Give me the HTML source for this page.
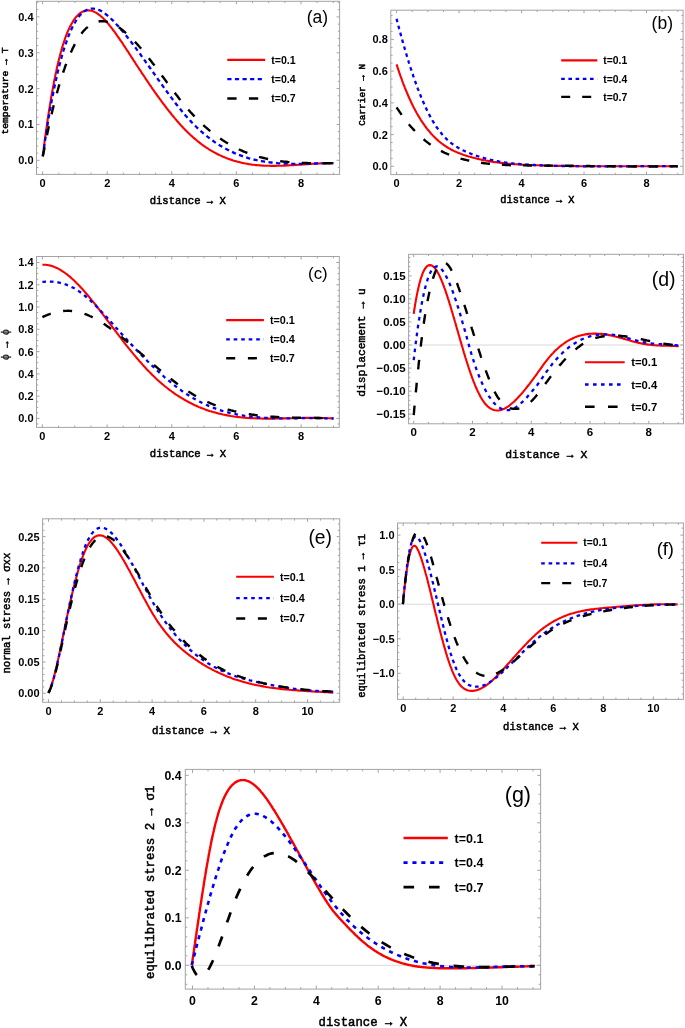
<!DOCTYPE html>
<html><head><meta charset="utf-8"><style>
html,body{margin:0;padding:0;background:#fff;}
body{width:685px;height:1028px;overflow:hidden;}
svg{display:block;will-change:transform;}
.tl{font-family:"Liberation Sans",sans-serif;font-weight:bold;fill:#000;}
.pl{font-family:"Liberation Sans",sans-serif;fill:#000;}
.ar{stroke:#000;stroke-width:0.45px;}
.at{font-family:"Liberation Mono",monospace;font-weight:normal;fill:#000;stroke:#000;stroke-width:0.5px;}
</style></head><body>
<svg width="685" height="1028" viewBox="0 0 685 1028">
<rect width="685" height="1028" fill="#fff"/>

<path d="M42.8 156.0L43.1 153.6L43.4 151.3L43.7 149.0L44.0 146.7L44.3 144.4L44.5 142.2L44.8 140.0L45.1 137.8L45.4 135.7L45.7 133.5L46.0 131.4L46.3 129.3L46.6 127.2L46.9 125.2L47.2 123.2L47.5 121.2L47.7 119.2L48.0 117.3L48.3 115.3L48.6 113.4L48.9 111.5L49.2 109.7L49.5 107.9L49.8 106.0L50.1 104.2L50.4 102.5L50.7 100.7L50.9 99.0L51.2 97.3L51.5 95.6L51.8 93.9L52.1 92.3L52.4 90.7L52.7 89.1L53.0 87.5L53.3 86.0L53.6 84.4L53.8 82.9L54.1 81.4L54.4 79.9L54.9 77.7L55.3 75.6L55.7 73.5L56.2 71.5L56.6 69.5L57.0 67.5L57.5 65.6L57.9 63.7L58.4 61.9L58.8 60.1L59.2 58.4L59.7 56.6L60.1 55.0L60.5 53.3L61.0 51.7L61.4 50.2L61.8 48.7L62.3 47.2L62.7 45.7L63.3 43.9L63.9 42.1L64.5 40.3L65.0 38.7L65.6 37.0L66.2 35.5L66.8 34.0L67.4 32.5L67.9 31.1L68.7 29.5L69.4 27.9L70.1 26.4L70.9 25.0L71.6 23.7L72.5 22.2L73.3 20.8L74.2 19.5L75.2 18.2L76.2 16.9L77.3 15.8L78.4 14.6L79.6 13.7L80.9 12.7L82.2 11.9L83.6 11.2L85.1 10.8L86.7 10.5L88.3 10.4L89.9 10.5L91.5 10.8L93.0 11.3L94.4 11.9L95.9 12.6L97.2 13.4L98.5 14.3L99.8 15.3L100.9 16.3L102.1 17.3L103.3 18.4L104.4 19.6L105.6 20.8L106.6 22.0L107.6 23.1L108.7 24.3L109.7 25.6L110.7 26.8L111.7 28.1L112.7 29.5L113.7 30.8L114.8 32.2L115.8 33.6L116.6 34.9L117.5 36.1L118.4 37.3L119.3 38.6L120.1 39.9L121.0 41.2L121.9 42.4L122.8 43.7L123.6 45.1L124.5 46.4L125.4 47.7L126.2 49.0L127.1 50.4L128.0 51.7L128.9 53.0L129.7 54.4L130.6 55.7L131.5 57.1L132.3 58.4L133.2 59.8L134.1 61.1L135.0 62.4L135.8 63.8L136.7 65.1L137.6 66.5L138.5 67.8L139.3 69.1L140.2 70.4L141.1 71.8L141.9 73.1L142.8 74.4L143.7 75.7L144.6 77.0L145.4 78.3L146.3 79.6L147.2 80.9L148.0 82.2L148.9 83.5L149.8 84.8L150.7 86.0L151.5 87.3L152.4 88.6L153.3 89.8L154.2 91.1L155.0 92.3L155.9 93.5L156.8 94.8L157.6 96.0L158.7 97.4L159.7 98.8L160.7 100.2L161.7 101.6L162.7 103.0L163.8 104.3L164.8 105.7L165.8 107.0L166.8 108.3L167.8 109.6L168.8 110.9L169.9 112.2L170.9 113.5L171.9 114.8L172.9 116.0L173.9 117.2L174.9 118.4L176.0 119.6L177.0 120.8L178.0 122.0L179.0 123.2L180.0 124.3L181.0 125.4L182.1 126.5L183.2 127.8L184.4 129.0L185.6 130.2L186.7 131.3L187.9 132.5L189.0 133.6L190.2 134.7L191.4 135.8L192.5 136.8L193.7 137.9L194.9 138.9L196.0 139.8L197.2 140.8L198.5 141.8L199.8 142.9L201.1 143.9L202.4 144.8L203.7 145.8L205.0 146.7L206.3 147.6L207.7 148.4L209.0 149.3L210.3 150.1L211.6 150.8L212.9 151.6L214.3 152.4L215.8 153.2L217.2 154.0L218.7 154.7L220.2 155.4L221.6 156.0L223.1 156.7L224.5 157.3L226.0 157.9L227.4 158.5L228.9 159.0L230.3 159.5L231.8 160.0L233.2 160.5L234.7 160.9L236.1 161.3L237.6 161.7L239.1 162.1L240.7 162.5L242.3 162.9L243.9 163.2L245.4 163.5L247.0 163.8L248.6 164.1L250.2 164.3L251.8 164.6L253.4 164.8L255.0 165.0L256.6 165.1L258.2 165.3L259.8 165.4L261.4 165.5L263.0 165.6L264.6 165.7L266.2 165.8L267.8 165.8L269.4 165.8L271.0 165.9L272.6 165.9L274.2 165.9L275.8 165.9L277.4 165.8L279.0 165.8L280.6 165.7L282.2 165.7L283.8 165.6L285.4 165.6L287.0 165.5L288.6 165.4L290.2 165.3L291.8 165.2L293.4 165.1L295.0 165.0L296.6 164.9L298.2 164.8L299.8 164.7L301.4 164.6L303.0 164.5L304.6 164.4L306.2 164.2L307.8 164.1L309.4 164.0L311.0 163.9L312.6 163.8L314.2 163.7L315.8 163.6L317.4 163.5L319.0 163.5L320.6 163.4L322.2 163.3L323.8 163.3L325.4 163.2L327.0 163.2L328.6 163.1L330.2 163.1L331.8 163.1L333.4 163.1" fill="none" stroke="#fa0000" stroke-width="2.1" stroke-linejoin="round"/>
<path d="M42.8 155.9L43.1 153.9L43.4 151.8L43.7 149.8L44.0 147.8L44.3 145.8L44.5 143.8L44.8 141.9L45.1 140.0L45.4 138.0L45.7 136.1L46.0 134.3L46.3 132.4L46.6 130.5L46.9 128.7L47.2 126.9L47.5 125.1L47.7 123.3L48.0 121.6L48.3 119.8L48.6 118.1L48.9 116.4L49.2 114.7L49.5 113.0L49.8 111.4L50.1 109.7L50.4 108.1L50.7 106.5L50.9 104.9L51.2 103.3L51.5 101.7L51.8 100.2L52.1 98.7L52.4 97.2L52.7 95.7L53.0 94.2L53.4 92.0L53.8 89.8L54.3 87.7L54.7 85.6L55.2 83.6L55.6 81.5L56.0 79.6L56.5 77.6L56.9 75.7L57.3 73.8L57.8 71.9L58.2 70.1L58.6 68.3L59.1 66.6L59.5 64.9L60.0 63.2L60.4 61.5L60.8 59.9L61.3 58.3L61.7 56.7L62.1 55.2L62.6 53.7L63.0 52.2L63.4 50.8L64.0 48.9L64.6 47.0L65.2 45.3L65.8 43.5L66.4 41.9L66.9 40.2L67.5 38.6L68.1 37.1L68.7 35.6L69.3 34.2L69.8 32.8L70.6 31.1L71.3 29.5L72.0 28.0L72.7 26.5L73.5 25.1L74.2 23.8L75.1 22.3L75.9 20.8L76.8 19.5L77.7 18.2L78.7 16.9L79.7 15.6L80.7 14.5L81.9 13.4L83.1 12.3L84.4 11.3L85.7 10.5L87.1 9.8L88.6 9.2L90.0 8.8L91.6 8.6L93.2 8.6L94.8 8.8L96.4 9.1L97.9 9.6L99.3 10.1L100.8 10.8L102.1 11.6L103.4 12.4L104.7 13.3L106.0 14.3L107.3 15.4L108.5 16.4L109.7 17.4L110.8 18.5L112.0 19.6L113.2 20.8L114.3 22.0L115.5 23.2L116.6 24.5L117.7 25.6L118.7 26.7L119.7 27.9L120.7 29.1L121.7 30.3L122.8 31.5L123.8 32.7L124.8 33.9L125.8 35.2L126.8 36.4L127.8 37.7L128.9 39.0L129.9 40.3L130.9 41.6L131.9 43.0L132.9 44.3L133.9 45.7L135.0 47.0L136.0 48.4L137.0 49.8L138.0 51.2L139.0 52.5L140.1 53.9L141.1 55.4L142.1 56.8L143.1 58.2L144.0 59.4L144.9 60.6L145.7 61.9L146.6 63.1L147.5 64.3L148.3 65.6L149.2 66.8L150.1 68.0L151.0 69.3L151.8 70.5L152.7 71.7L153.6 73.0L154.4 74.2L155.3 75.5L156.2 76.7L157.1 77.9L157.9 79.2L158.8 80.4L159.7 81.6L160.6 82.9L161.4 84.1L162.3 85.3L163.3 86.7L164.3 88.1L165.3 89.6L166.4 91.0L167.4 92.3L168.4 93.7L169.4 95.1L170.4 96.5L171.5 97.8L172.5 99.2L173.5 100.5L174.5 101.9L175.5 103.2L176.5 104.5L177.6 105.8L178.6 107.1L179.6 108.4L180.6 109.6L181.6 110.8L182.6 112.1L183.7 113.3L184.7 114.5L185.7 115.7L186.7 116.8L187.7 118.0L188.8 119.1L189.8 120.2L190.9 121.4L192.1 122.7L193.3 123.9L194.4 125.0L195.6 126.2L196.7 127.3L197.9 128.4L199.1 129.5L200.2 130.6L201.4 131.6L202.6 132.6L203.7 133.6L204.9 134.6L206.1 135.5L207.4 136.6L208.7 137.6L210.0 138.6L211.3 139.6L212.6 140.5L213.9 141.5L215.2 142.4L216.5 143.2L217.8 144.1L219.1 144.9L220.4 145.7L221.8 146.5L223.1 147.3L224.4 148.0L225.8 148.8L227.3 149.6L228.7 150.3L230.2 151.1L231.6 151.7L233.1 152.4L234.5 153.1L236.0 153.7L237.5 154.3L238.9 154.9L240.4 155.4L241.8 155.9L243.3 156.4L244.7 156.9L246.2 157.4L247.6 157.8L249.1 158.3L250.5 158.7L252.0 159.1L253.6 159.5L255.2 159.8L256.8 160.2L258.4 160.5L260.0 160.8L261.6 161.1L263.2 161.4L264.8 161.7L266.4 161.9L268.0 162.1L269.6 162.4L271.2 162.5L272.8 162.7L274.4 162.9L276.0 163.0L277.6 163.2L279.2 163.3L280.8 163.4L282.4 163.5L284.0 163.5L285.6 163.6L287.2 163.7L288.8 163.7L290.4 163.8L292.0 163.8L293.6 163.8L295.2 163.8L296.8 163.8L298.4 163.8L300.0 163.8L301.6 163.8L303.2 163.8L304.8 163.7L306.4 163.7L308.0 163.7L309.6 163.6L311.2 163.6L312.8 163.6L314.4 163.5L316.0 163.5L317.6 163.4L319.2 163.4L320.8 163.4L322.4 163.3L324.0 163.3L325.5 163.2L327.1 163.2L328.7 163.2L330.3 163.2L331.9 163.1L333.4 163.1" fill="none" stroke="#0000fa" stroke-width="2.3" stroke-dasharray="4.2 3.4" stroke-linejoin="round"/>
<path d="M42.8 156.5L43.1 155.0L43.4 153.4L43.7 151.9L44.0 150.4L44.3 148.9L44.5 147.4L44.8 145.9L45.1 144.4L45.6 142.2L46.0 140.0L46.4 137.9L46.9 135.8L47.3 133.6L47.7 131.6L48.2 129.5L48.6 127.5L49.1 125.5L49.5 123.5L49.9 121.5L50.4 119.6L50.8 117.7L51.2 115.8L51.7 113.9L52.1 112.1L52.5 110.2L53.0 108.4L53.4 106.6L53.8 104.9L54.3 103.2L54.7 101.4L55.2 99.7L55.6 98.1L56.0 96.4L56.5 94.8L56.9 93.2L57.3 91.6L57.8 90.0L58.2 88.5L58.6 87.0L59.1 85.5L59.5 84.0L60.0 82.5L60.4 81.1L61.0 79.2L61.6 77.3L62.1 75.5L62.7 73.8L63.3 72.0L63.9 70.3L64.5 68.6L65.0 67.0L65.6 65.4L66.2 63.8L66.8 62.3L67.4 60.7L67.9 59.3L68.5 57.8L69.1 56.4L69.8 54.7L70.6 53.0L71.3 51.4L72.0 49.9L72.7 48.3L73.5 46.9L74.2 45.4L74.9 44.1L75.7 42.7L76.5 41.2L77.4 39.7L78.3 38.3L79.1 37.0L80.0 35.7L80.9 34.4L81.9 33.1L82.9 31.8L83.9 30.6L85.0 29.5L86.1 28.3L87.3 27.3L88.4 26.3L89.8 25.3L91.1 24.4L92.4 23.6L93.8 22.9L95.3 22.3L96.7 21.8L98.3 21.5L99.9 21.2L101.5 21.2L103.1 21.2L104.7 21.4L106.3 21.6L107.9 22.0L109.4 22.5L110.8 23.0L112.3 23.7L113.7 24.4L115.2 25.2L116.5 25.9L117.8 26.7L119.1 27.6L120.4 28.5L121.7 29.5L123.0 30.5L124.4 31.6L125.5 32.6L126.7 33.6L127.8 34.6L129.0 35.7L130.2 36.8L131.3 38.0L132.5 39.2L133.7 40.4L134.8 41.6L136.0 42.9L137.0 44.0L138.0 45.1L139.0 46.3L140.1 47.5L141.1 48.6L142.1 49.9L143.1 51.1L144.1 52.3L145.1 53.6L146.2 54.8L147.2 56.1L148.2 57.4L149.2 58.7L150.2 60.0L151.2 61.3L152.3 62.7L153.3 64.0L154.3 65.3L155.3 66.7L156.3 68.0L157.4 69.4L158.4 70.8L159.4 72.1L160.4 73.5L161.4 74.9L162.4 76.3L163.5 77.6L164.5 79.0L165.5 80.4L166.5 81.8L167.5 83.1L168.5 84.5L169.6 85.9L170.6 87.2L171.6 88.6L172.6 90.0L173.6 91.3L174.7 92.6L175.7 94.0L176.7 95.3L177.7 96.6L178.7 97.9L179.7 99.2L180.8 100.5L181.8 101.8L182.8 103.0L183.8 104.3L184.8 105.5L185.8 106.7L186.9 107.9L187.9 109.1L188.9 110.3L189.9 111.4L190.9 112.6L192.0 113.7L193.1 114.9L194.3 116.2L195.4 117.4L196.6 118.6L197.8 119.8L198.9 120.9L200.1 122.0L201.3 123.2L202.4 124.2L203.6 125.3L204.7 126.4L205.9 127.4L207.1 128.4L208.2 129.4L209.4 130.4L210.6 131.3L211.9 132.4L213.2 133.4L214.5 134.4L215.8 135.4L217.1 136.4L218.4 137.3L219.7 138.2L221.0 139.1L222.3 140.0L223.6 140.8L225.0 141.7L226.3 142.5L227.6 143.3L228.9 144.1L230.2 144.8L231.6 145.6L233.1 146.4L234.5 147.2L236.0 147.9L237.5 148.6L238.9 149.3L240.4 150.0L241.8 150.6L243.3 151.3L244.7 151.9L246.2 152.5L247.6 153.0L249.1 153.6L250.5 154.1L252.0 154.6L253.4 155.1L254.9 155.6L256.4 156.0L257.8 156.4L259.3 156.9L260.7 157.3L262.2 157.6L263.8 158.0L265.4 158.4L267.0 158.8L268.6 159.1L270.2 159.4L271.8 159.8L273.4 160.0L275.0 160.3L276.6 160.6L278.2 160.8L279.8 161.0L281.4 161.3L283.0 161.5L284.6 161.6L286.2 161.8L287.8 162.0L289.4 162.1L291.0 162.3L292.6 162.4L294.1 162.5L295.7 162.6L297.3 162.7L298.9 162.8L300.5 162.8L302.1 162.9L303.7 163.0L305.3 163.0L306.9 163.0L308.5 163.1L310.1 163.1L311.7 163.1L313.3 163.2L314.9 163.2L316.5 163.2L318.1 163.2L319.7 163.2L321.3 163.2L322.9 163.2L324.5 163.2L326.1 163.2L327.7 163.2L329.3 163.2L330.9 163.1L332.5 163.1L333.4 163.1" fill="none" stroke="#000000" stroke-width="2.4" stroke-dasharray="9.3 12.3" stroke-linejoin="round"/>
<rect x="36.5" y="1.3" width="303.1" height="173.1" fill="none" stroke="#a3a3a3" stroke-width="1"/>
<path d="M42.6 174.4v-3M42.6 1.3v3M58.8 174.4v-1.8M58.8 1.3v1.8M74.9 174.4v-1.8M74.9 1.3v1.8M91 174.4v-1.8M91 1.3v1.8M107.2 174.4v-3M107.2 1.3v3M123.3 174.4v-1.8M123.3 1.3v1.8M139.5 174.4v-1.8M139.5 1.3v1.8M155.6 174.4v-1.8M155.6 1.3v1.8M171.8 174.4v-3M171.8 1.3v3M187.9 174.4v-1.8M187.9 1.3v1.8M204.1 174.4v-1.8M204.1 1.3v1.8M220.2 174.4v-1.8M220.2 1.3v1.8M236.4 174.4v-3M236.4 1.3v3M252.5 174.4v-1.8M252.5 1.3v1.8M268.7 174.4v-1.8M268.7 1.3v1.8M284.8 174.4v-1.8M284.8 1.3v1.8M301 174.4v-3M301 1.3v3M317.1 174.4v-1.8M317.1 1.3v1.8M333.3 174.4v-1.8M333.3 1.3v1.8M36.5 167.5h1.8M339.6 167.5h-1.8M36.5 160.3h3M339.6 160.3h-3M36.5 153.1h1.8M339.6 153.1h-1.8M36.5 146h1.8M339.6 146h-1.8M36.5 138.8h1.8M339.6 138.8h-1.8M36.5 131.6h1.8M339.6 131.6h-1.8M36.5 124.5h3M339.6 124.5h-3M36.5 117.3h1.8M339.6 117.3h-1.8M36.5 110.1h1.8M339.6 110.1h-1.8M36.5 102.9h1.8M339.6 102.9h-1.8M36.5 95.8h1.8M339.6 95.8h-1.8M36.5 88.6h3M339.6 88.6h-3M36.5 81.4h1.8M339.6 81.4h-1.8M36.5 74.3h1.8M339.6 74.3h-1.8M36.5 67.1h1.8M339.6 67.1h-1.8M36.5 59.9h1.8M339.6 59.9h-1.8M36.5 52.8h3M339.6 52.8h-3M36.5 45.6h1.8M339.6 45.6h-1.8M36.5 38.4h1.8M339.6 38.4h-1.8M36.5 31.2h1.8M339.6 31.2h-1.8M36.5 24.1h1.8M339.6 24.1h-1.8M36.5 16.9h3M339.6 16.9h-3M36.5 9.7h1.8M339.6 9.7h-1.8M36.5 2.6h1.8M339.6 2.6h-1.8" stroke="#a3a3a3" stroke-width="1" fill="none"/>
<text x="42.6" y="186.7" class="tl" style="font-size:11px" text-anchor="middle">0</text>
<text x="107.2" y="186.7" class="tl" style="font-size:11px" text-anchor="middle">2</text>
<text x="171.8" y="186.7" class="tl" style="font-size:11px" text-anchor="middle">4</text>
<text x="236.4" y="186.7" class="tl" style="font-size:11px" text-anchor="middle">6</text>
<text x="301" y="186.7" class="tl" style="font-size:11px" text-anchor="middle">8</text>
<text x="33.5" y="164.2" class="tl" style="font-size:11px" text-anchor="end">0.0</text>
<text x="33.5" y="128.4" class="tl" style="font-size:11px" text-anchor="end">0.1</text>
<text x="33.5" y="92.5" class="tl" style="font-size:11px" text-anchor="end">0.2</text>
<text x="33.5" y="56.7" class="tl" style="font-size:11px" text-anchor="end">0.3</text>
<text x="33.5" y="20.8" class="tl" style="font-size:11px" text-anchor="end">0.4</text>
<text x="328.2" y="23.3" class="pl" style="font-size:17.5px" text-anchor="end">(a)</text>
<line x1="227.3" y1="59.9" x2="265.2" y2="59.9" stroke="#fa0000" stroke-width="2.1"/>
<text x="271.2" y="63.7" class="tl" style="font-size:10.6px">t=0.1</text>
<line x1="227.3" y1="79.2" x2="265.2" y2="79.2" stroke="#0000fa" stroke-width="2.3" stroke-dasharray="4.2 3.4"/>
<text x="271.2" y="83" class="tl" style="font-size:10.6px">t=0.4</text>
<line x1="227.3" y1="98.5" x2="265.2" y2="98.5" stroke="#000000" stroke-width="2.4" stroke-dasharray="9.3 12.3"/>
<text x="271.2" y="102.3" class="tl" style="font-size:10.6px">t=0.7</text>
<text x="187.8" y="203.5" class="at" style="font-size:10.6px" text-anchor="middle">distance <tspan class="ar">→</tspan> X</text>
<text transform="translate(7.6 91) rotate(-90)" class="at" style="font-size:9.7px;" text-anchor="middle">temperature <tspan class="ar">→</tspan> T</text>
<path d="M396.6 64.4L397.2 66.2L397.7 67.9L398.3 69.6L398.8 71.2L399.4 72.9L400.0 74.5L400.5 76.1L401.1 77.7L401.7 79.2L402.2 80.8L402.8 82.3L403.3 83.8L403.9 85.2L404.5 86.7L405.0 88.1L405.6 89.5L406.3 91.2L407.0 92.9L407.7 94.5L408.4 96.2L409.1 97.7L409.8 99.3L410.5 100.8L411.2 102.3L411.9 103.8L412.6 105.2L413.3 106.6L414.0 108.0L414.7 109.3L415.6 110.9L416.4 112.5L417.3 114.0L418.1 115.4L419.0 116.9L419.8 118.2L420.6 119.6L421.5 120.9L422.3 122.2L423.2 123.4L424.2 124.8L425.1 126.2L426.1 127.5L427.1 128.8L428.1 130.0L429.1 131.2L430.1 132.4L431.2 133.7L432.3 134.9L433.4 136.1L434.6 137.2L435.7 138.3L436.8 139.4L437.9 140.4L439.2 141.5L440.5 142.5L441.7 143.5L443.0 144.4L444.3 145.3L445.5 146.2L446.8 147.0L448.2 147.9L449.6 148.7L451.0 149.5L452.4 150.2L453.8 150.9L455.2 151.5L456.6 152.1L458.1 152.7L459.5 153.3L460.9 153.8L462.4 154.4L464.0 154.9L465.5 155.4L467.1 155.9L468.6 156.4L470.1 156.8L471.7 157.3L473.2 157.7L474.8 158.1L476.3 158.5L477.9 158.9L479.4 159.2L481.0 159.6L482.5 159.9L484.1 160.2L485.6 160.5L487.2 160.8L488.7 161.1L490.3 161.4L491.8 161.6L493.3 161.9L494.9 162.1L496.4 162.3L498.0 162.5L499.5 162.7L501.1 162.9L502.6 163.1L504.2 163.3L505.7 163.4L507.3 163.6L508.8 163.7L510.4 163.9L511.9 164.0L513.5 164.1L515.0 164.2L516.5 164.3L518.1 164.4L519.6 164.5L521.2 164.6L522.7 164.7L524.3 164.8L525.8 164.9L527.4 164.9L528.9 165.0L530.5 165.1L532.0 165.1L533.6 165.2L535.1 165.2L536.7 165.3L538.2 165.3L539.8 165.4L541.3 165.4L542.8 165.5L544.4 165.5L545.9 165.6L547.5 165.6L549.0 165.6L550.6 165.7L552.1 165.7L553.7 165.8L555.2 165.8L556.8 165.8L558.3 165.9L559.9 165.9L561.4 165.9L563.0 165.9L564.5 166.0L566.0 166.0L567.6 166.0L569.1 166.0L570.7 166.1L572.2 166.1L573.8 166.1L575.3 166.1L576.9 166.1L578.4 166.2L580.0 166.2L581.5 166.2L583.1 166.2L584.6 166.2L586.2 166.2L587.7 166.2L589.2 166.3L590.8 166.3L592.3 166.3L593.9 166.3L595.4 166.3L597.0 166.3L598.5 166.3L600.1 166.3L601.6 166.3L603.2 166.3L604.7 166.3L606.3 166.3L607.8 166.3L609.4 166.3L610.9 166.3L612.5 166.3L614.0 166.3L615.5 166.3L617.1 166.3L618.6 166.3L620.2 166.3L621.7 166.3L623.3 166.3L624.8 166.3L626.4 166.3L627.9 166.3L629.5 166.3L631.0 166.3L632.6 166.3L634.1 166.3L635.7 166.3L637.2 166.3L638.7 166.3L640.3 166.3L641.8 166.3L643.4 166.3L644.9 166.3L646.5 166.3L648.0 166.3L649.6 166.3L651.1 166.3L652.7 166.3L654.2 166.3L655.8 166.3L657.3 166.3L658.9 166.3L660.4 166.3L662.0 166.3L663.5 166.3L665.0 166.3L666.6 166.3L668.1 166.3L669.7 166.3L671.2 166.3L672.8 166.3L674.3 166.3L675.9 166.3L677.4 166.3L677.7 166.3" fill="none" stroke="#fa0000" stroke-width="2.1" stroke-linejoin="round"/>
<path d="M396.6 18.7L397.0 20.4L397.4 22.0L397.9 23.6L398.3 25.3L398.7 26.9L399.1 28.5L399.6 30.1L400.0 31.6L400.4 33.2L400.8 34.8L401.2 36.3L401.7 37.8L402.1 39.4L402.5 40.9L402.9 42.4L403.3 43.9L403.8 45.4L404.2 46.8L404.6 48.3L405.0 49.8L405.5 51.2L406.0 53.1L406.6 55.0L407.1 56.8L407.7 58.7L408.3 60.5L408.8 62.3L409.4 64.1L410.0 65.9L410.5 67.6L411.1 69.4L411.6 71.1L412.2 72.8L412.8 74.4L413.3 76.1L413.9 77.7L414.5 79.4L415.0 80.9L415.6 82.5L416.1 84.1L416.7 85.6L417.3 87.1L417.8 88.6L418.4 90.1L419.0 91.6L419.5 93.0L420.1 94.4L420.6 95.8L421.3 97.5L422.1 99.2L422.8 100.9L423.5 102.5L424.2 104.1L424.9 105.7L425.6 107.2L426.3 108.7L427.0 110.2L427.7 111.6L428.4 113.0L429.1 114.4L429.8 115.7L430.6 117.3L431.5 118.8L432.3 120.3L433.2 121.7L434.0 123.1L434.8 124.5L435.7 125.8L436.5 127.0L437.5 128.4L438.5 129.8L439.5 131.1L440.5 132.3L441.5 133.5L442.4 134.7L443.6 136.0L444.7 137.2L445.8 138.3L446.9 139.4L448.1 140.4L449.3 141.5L450.6 142.6L451.9 143.6L453.1 144.5L454.4 145.4L455.7 146.2L457.1 147.1L458.5 147.9L459.9 148.7L461.3 149.5L462.7 150.2L464.1 150.8L465.5 151.5L466.9 152.1L468.3 152.7L469.7 153.2L471.1 153.8L472.5 154.3L474.1 154.9L475.6 155.5L477.2 156.0L478.7 156.5L480.3 157.0L481.8 157.5L483.4 157.9L484.9 158.3L486.5 158.8L488.0 159.2L489.6 159.5L491.1 159.9L492.6 160.2L494.2 160.6L495.7 160.9L497.3 161.2L498.8 161.5L500.4 161.7L501.9 162.0L503.5 162.2L505.0 162.5L506.6 162.7L508.1 162.9L509.7 163.1L511.2 163.3L512.8 163.4L514.3 163.6L515.8 163.7L517.4 163.9L518.9 164.0L520.5 164.2L522.0 164.3L523.6 164.4L525.1 164.5L526.7 164.6L528.2 164.7L529.8 164.8L531.3 164.9L532.9 164.9L534.4 165.0L536.0 165.1L537.5 165.2L539.0 165.2L540.6 165.3L542.1 165.4L543.7 165.4L545.2 165.5L546.8 165.5L548.3 165.6L549.9 165.6L551.4 165.7L553.0 165.7L554.5 165.8L556.1 165.8L557.6 165.9L559.2 165.9L560.7 165.9L562.3 166.0L563.8 166.0L565.3 166.0L566.9 166.1L568.4 166.1L570.0 166.1L571.5 166.1L573.1 166.2L574.6 166.2L576.2 166.2L577.7 166.2L579.3 166.2L580.8 166.2L582.4 166.3L583.9 166.3L585.5 166.3L587.0 166.3L588.5 166.3L590.1 166.3L591.6 166.3L593.2 166.3L594.7 166.3L596.3 166.3L597.8 166.3L599.4 166.3L600.9 166.3L602.5 166.3L604.0 166.3L605.6 166.3L607.1 166.3L608.7 166.3L610.2 166.3L611.7 166.3L613.3 166.3L614.8 166.3L616.4 166.3L617.9 166.3L619.5 166.3L621.0 166.3L622.6 166.3L624.1 166.3L625.7 166.3L627.2 166.3L628.8 166.3L630.3 166.3L631.9 166.3L633.4 166.2L635.0 166.2L636.5 166.2L638.0 166.2L639.6 166.2L641.1 166.2L642.7 166.2L644.2 166.2L645.8 166.2L647.3 166.2L648.9 166.2L650.4 166.2L652.0 166.2L653.5 166.2L655.1 166.2L656.6 166.2L658.2 166.2L659.7 166.2L661.2 166.2L662.8 166.2L664.3 166.2L665.9 166.2L667.4 166.2L669.0 166.2L670.5 166.2L672.1 166.3L673.6 166.3L675.2 166.3L676.7 166.3L677.7 166.3" fill="none" stroke="#0000fa" stroke-width="2.3" stroke-dasharray="3.6 3.6" stroke-linejoin="round"/>
<path d="M396.6 107.3L397.4 108.6L398.3 109.9L399.1 111.2L400.0 112.4L401.0 113.9L401.9 115.3L402.9 116.6L403.9 118.0L404.9 119.3L405.9 120.6L406.9 121.8L407.8 123.0L408.8 124.2L409.8 125.4L410.8 126.6L411.9 127.8L413.1 129.1L414.2 130.3L415.3 131.5L416.4 132.6L417.6 133.8L418.7 134.9L419.8 135.9L420.9 136.9L422.1 138.0L423.3 139.0L424.6 140.1L425.8 141.1L427.1 142.1L428.4 143.1L429.6 144.0L430.9 144.9L432.2 145.8L433.4 146.6L434.8 147.5L436.3 148.3L437.7 149.2L439.1 150.0L440.5 150.7L441.9 151.4L443.3 152.1L444.7 152.8L446.1 153.4L447.5 154.0L448.9 154.6L450.3 155.2L451.7 155.7L453.3 156.3L454.8 156.8L456.4 157.3L457.9 157.8L459.5 158.2L461.0 158.7L462.6 159.1L464.1 159.5L465.6 159.8L467.2 160.2L468.7 160.5L470.3 160.9L471.8 161.2L473.4 161.5L474.9 161.8L476.5 162.0L478.0 162.3L479.6 162.5L481.1 162.8L482.7 163.0L484.2 163.2L485.8 163.4L487.3 163.6L488.8 163.7L490.4 163.9L491.9 164.0L493.5 164.2L495.0 164.3L496.6 164.4L498.1 164.5L499.7 164.6L501.2 164.7L502.8 164.8L504.3 164.9L505.9 165.0L507.4 165.0L509.0 165.1L510.5 165.2L512.0 165.2L513.6 165.2L515.1 165.3L516.7 165.3L518.2 165.3L519.8 165.4L521.3 165.4L522.9 165.4L524.4 165.4L526.0 165.4L527.5 165.5L529.1 165.5L530.6 165.5L532.2 165.5L533.7 165.5L535.3 165.5L536.8 165.5L538.3 165.5L539.9 165.5L541.4 165.5L543.0 165.6L544.5 165.6L546.1 165.6L547.6 165.6L549.2 165.6L550.7 165.6L552.3 165.6L553.8 165.6L555.4 165.7L556.9 165.7L558.5 165.7L560.0 165.7L561.5 165.7L563.1 165.7L564.6 165.8L566.2 165.8L567.7 165.8L569.3 165.8L570.8 165.8L572.4 165.8L573.9 165.9L575.5 165.9L577.0 165.9L578.6 165.9L580.1 165.9L581.7 166.0L583.2 166.0L584.7 166.0L586.3 166.0L587.8 166.0L589.4 166.0L590.9 166.1L592.5 166.1L594.0 166.1L595.6 166.1L597.1 166.1L598.7 166.2L600.2 166.2L601.8 166.2L603.3 166.2L604.9 166.2L606.4 166.2L608.0 166.3L609.5 166.3L611.0 166.3L612.6 166.3L614.1 166.3L615.7 166.3L617.2 166.4L618.8 166.4L620.3 166.4L621.9 166.4L623.4 166.4L625.0 166.4L626.5 166.4L628.1 166.4L629.6 166.4L631.2 166.5L632.7 166.5L634.2 166.5L635.8 166.5L637.3 166.5L638.9 166.5L640.4 166.5L642.0 166.5L643.5 166.5L645.1 166.5L646.6 166.5L648.2 166.5L649.7 166.5L651.3 166.5L652.8 166.5L654.4 166.5L655.9 166.5L657.5 166.5L659.0 166.5L660.5 166.5L662.1 166.4L663.6 166.4L665.2 166.4L666.7 166.4L668.3 166.4L669.8 166.4L671.4 166.4L672.9 166.3L674.5 166.3L676.0 166.3L677.6 166.3L677.7 166.3" fill="none" stroke="#000000" stroke-width="2.4" stroke-dasharray="9 12" stroke-linejoin="round"/>
<rect x="390.8" y="10.2" width="292.3" height="164.4" fill="none" stroke="#a3a3a3" stroke-width="1"/>
<path d="M396.6 174.6v-3M396.6 10.2v3M412.2 174.6v-1.8M412.2 10.2v1.8M427.8 174.6v-1.8M427.8 10.2v1.8M443.5 174.6v-1.8M443.5 10.2v1.8M459.1 174.6v-3M459.1 10.2v3M474.7 174.6v-1.8M474.7 10.2v1.8M490.3 174.6v-1.8M490.3 10.2v1.8M505.9 174.6v-1.8M505.9 10.2v1.8M521.6 174.6v-3M521.6 10.2v3M537.2 174.6v-1.8M537.2 10.2v1.8M552.8 174.6v-1.8M552.8 10.2v1.8M568.4 174.6v-1.8M568.4 10.2v1.8M584 174.6v-3M584 10.2v3M599.7 174.6v-1.8M599.7 10.2v1.8M615.3 174.6v-1.8M615.3 10.2v1.8M630.9 174.6v-1.8M630.9 10.2v1.8M646.5 174.6v-3M646.5 10.2v3M662.1 174.6v-1.8M662.1 10.2v1.8M677.8 174.6v-1.8M677.8 10.2v1.8M390.8 166.3h3M683.1 166.3h-3M390.8 158.4h1.8M683.1 158.4h-1.8M390.8 150.4h1.8M683.1 150.4h-1.8M390.8 142.5h1.8M683.1 142.5h-1.8M390.8 134.6h3M683.1 134.6h-3M390.8 126.7h1.8M683.1 126.7h-1.8M390.8 118.7h1.8M683.1 118.7h-1.8M390.8 110.8h1.8M683.1 110.8h-1.8M390.8 102.9h3M683.1 102.9h-3M390.8 94.9h1.8M683.1 94.9h-1.8M390.8 87h1.8M683.1 87h-1.8M390.8 79.1h1.8M683.1 79.1h-1.8M390.8 71.1h3M683.1 71.1h-3M390.8 63.2h1.8M683.1 63.2h-1.8M390.8 55.3h1.8M683.1 55.3h-1.8M390.8 47.4h1.8M683.1 47.4h-1.8M390.8 39.4h3M683.1 39.4h-3M390.8 31.5h1.8M683.1 31.5h-1.8M390.8 23.6h1.8M683.1 23.6h-1.8M390.8 15.6h1.8M683.1 15.6h-1.8" stroke="#a3a3a3" stroke-width="1" fill="none"/>
<text x="396.6" y="186.9" class="tl" style="font-size:11px" text-anchor="middle">0</text>
<text x="459.1" y="186.9" class="tl" style="font-size:11px" text-anchor="middle">2</text>
<text x="521.6" y="186.9" class="tl" style="font-size:11px" text-anchor="middle">4</text>
<text x="584" y="186.9" class="tl" style="font-size:11px" text-anchor="middle">6</text>
<text x="646.5" y="186.9" class="tl" style="font-size:11px" text-anchor="middle">8</text>
<text x="387.8" y="170.2" class="tl" style="font-size:11px" text-anchor="end">0.0</text>
<text x="387.8" y="138.5" class="tl" style="font-size:11px" text-anchor="end">0.2</text>
<text x="387.8" y="106.8" class="tl" style="font-size:11px" text-anchor="end">0.4</text>
<text x="387.8" y="75.1" class="tl" style="font-size:11px" text-anchor="end">0.6</text>
<text x="387.8" y="43.4" class="tl" style="font-size:11px" text-anchor="end">0.8</text>
<text x="673" y="29.2" class="pl" style="font-size:17.5px" text-anchor="end">(b)</text>
<line x1="561.2" y1="60.4" x2="597.3" y2="60.4" stroke="#fa0000" stroke-width="2.1"/>
<text x="603.2" y="64.1" class="tl" style="font-size:10.4px">t=0.1</text>
<line x1="561.2" y1="78.9" x2="597.3" y2="78.9" stroke="#0000fa" stroke-width="2.3" stroke-dasharray="3.6 3.6"/>
<text x="603.2" y="82.6" class="tl" style="font-size:10.4px">t=0.4</text>
<line x1="561.2" y1="96.9" x2="597.3" y2="96.9" stroke="#000000" stroke-width="2.4" stroke-dasharray="9 12"/>
<text x="603.2" y="100.6" class="tl" style="font-size:10.4px">t=0.7</text>
<text x="537.4" y="202.8" class="at" style="font-size:10.3px" text-anchor="middle">distance <tspan class="ar">→</tspan> X</text>
<text transform="translate(364.6 94.8) rotate(-90)" class="at" style="font-size:9.4px;" text-anchor="middle">Carrier <tspan class="ar">→</tspan> N</text>
<path d="M42.4 264.8L44.0 264.7L45.6 264.8L47.2 265.0L48.8 265.3L50.4 265.6L51.9 266.0L53.3 266.5L54.8 267.1L56.2 267.7L57.7 268.4L59.1 269.2L60.5 269.9L61.8 270.8L63.1 271.6L64.4 272.5L65.7 273.5L67.0 274.4L68.3 275.5L69.5 276.4L70.7 277.4L71.8 278.5L73.0 279.5L74.1 280.6L75.3 281.7L76.5 282.9L77.6 284.1L78.8 285.3L80.0 286.5L81.1 287.7L82.2 288.8L83.2 290.0L84.2 291.1L85.2 292.3L86.2 293.5L87.3 294.7L88.3 295.9L89.3 297.1L90.3 298.3L91.3 299.6L92.3 300.8L93.4 302.1L94.4 303.4L95.4 304.7L96.4 306.0L97.4 307.3L98.5 308.6L99.5 309.9L100.5 311.3L101.5 312.6L102.5 313.9L103.6 315.3L104.6 316.6L105.6 318.0L106.6 319.3L107.6 320.7L108.7 322.1L109.7 323.4L110.7 324.8L111.7 326.1L112.7 327.5L113.8 328.8L114.8 330.2L115.8 331.5L116.8 332.9L117.8 334.2L118.9 335.6L119.9 336.9L120.9 338.2L121.9 339.5L122.9 340.9L123.9 342.2L125.0 343.5L126.0 344.8L127.0 346.1L128.0 347.3L129.0 348.6L130.1 349.9L131.1 351.1L132.1 352.4L133.1 353.6L134.1 354.9L135.2 356.1L136.2 357.3L137.2 358.5L138.2 359.7L139.2 360.9L140.3 362.0L141.3 363.2L142.3 364.4L143.3 365.5L144.3 366.6L145.4 367.7L146.5 369.0L147.7 370.2L148.9 371.4L150.0 372.6L151.2 373.8L152.3 375.0L153.5 376.1L154.7 377.2L155.8 378.3L157.0 379.4L158.2 380.5L159.3 381.5L160.5 382.5L161.7 383.6L162.8 384.5L164.0 385.5L165.2 386.5L166.5 387.5L167.8 388.5L169.1 389.6L170.4 390.5L171.7 391.5L173.0 392.4L174.3 393.4L175.6 394.3L177.0 395.1L178.3 396.0L179.6 396.8L180.9 397.6L182.2 398.4L183.5 399.2L184.8 400.0L186.1 400.7L187.6 401.5L189.0 402.3L190.5 403.0L192.0 403.8L193.4 404.5L194.9 405.2L196.3 405.8L197.8 406.5L199.2 407.1L200.7 407.7L202.1 408.3L203.6 408.8L205.1 409.4L206.5 409.9L208.0 410.4L209.4 410.9L210.9 411.3L212.3 411.8L213.8 412.2L215.3 412.6L216.7 413.0L218.2 413.4L219.6 413.7L221.2 414.1L222.8 414.5L224.4 414.8L226.0 415.1L227.6 415.4L229.2 415.7L230.8 416.0L232.4 416.2L234.0 416.5L235.6 416.7L237.2 416.9L238.8 417.1L240.4 417.3L242.0 417.5L243.7 417.6L245.3 417.7L246.9 417.9L248.5 418.0L250.1 418.1L251.7 418.2L253.3 418.3L254.9 418.3L256.5 418.4L258.1 418.5L259.7 418.5L261.3 418.5L262.9 418.6L264.5 418.6L266.1 418.6L267.7 418.6L269.3 418.6L270.9 418.6L272.5 418.6L274.1 418.6L275.7 418.5L277.3 418.5L278.9 418.5L280.5 418.5L282.1 418.4L283.7 418.4L285.3 418.4L286.9 418.3L288.5 418.3L290.1 418.2L291.7 418.2L293.3 418.1L294.9 418.1L296.5 418.1L298.1 418.0L299.7 418.0L301.3 418.0L302.9 417.9L304.5 417.9L306.1 417.9L307.7 417.9L309.3 417.9L310.9 417.9L312.5 417.9L314.1 417.9L315.7 417.9L317.3 417.9L318.9 417.9L320.5 417.9L322.1 418.0L323.7 418.0L325.3 418.1L326.9 418.2L328.5 418.2L330.2 418.3L331.8 418.4L333.4 418.5L333.5 418.6" fill="none" stroke="#fa0000" stroke-width="2.1" stroke-linejoin="round"/>
<path d="M42.4 281.9L44.0 281.8L45.6 281.6L47.2 281.6L48.8 281.5L50.4 281.6L52.0 281.6L53.6 281.8L55.2 281.9L56.8 282.2L58.4 282.4L60.0 282.8L61.6 283.2L63.1 283.6L64.5 284.0L66.0 284.5L67.4 285.1L68.9 285.7L70.4 286.4L71.8 287.1L73.3 287.8L74.7 288.6L76.0 289.4L77.3 290.2L78.7 291.1L80.0 292.0L81.3 292.9L82.6 293.9L83.9 294.9L85.2 296.0L86.4 297.0L87.5 298.0L88.7 299.0L89.9 300.0L91.0 301.1L92.2 302.2L93.4 303.3L94.5 304.5L95.7 305.6L96.9 306.8L98.0 308.0L99.2 309.2L100.4 310.4L101.5 311.7L102.7 312.9L103.7 314.0L104.7 315.1L105.7 316.2L106.8 317.4L107.8 318.5L108.8 319.6L109.8 320.8L110.8 321.9L111.9 323.0L112.9 324.2L113.9 325.3L114.9 326.4L115.9 327.6L117.0 328.7L118.0 329.9L119.0 331.0L120.0 332.1L121.0 333.2L122.1 334.4L123.1 335.5L124.1 336.6L125.1 337.7L126.1 338.8L127.2 339.9L128.2 341.0L129.2 342.1L130.4 343.4L131.5 344.6L132.7 345.9L133.9 347.1L135.0 348.4L136.2 349.6L137.3 350.8L138.5 352.0L139.7 353.2L140.8 354.4L142.0 355.6L143.2 356.8L144.3 358.0L145.5 359.2L146.7 360.3L147.8 361.5L149.0 362.7L150.2 363.8L151.3 364.9L152.5 366.1L153.7 367.2L154.8 368.3L156.0 369.4L157.2 370.5L158.3 371.5L159.5 372.6L160.6 373.7L161.8 374.7L163.0 375.7L164.1 376.8L165.3 377.8L166.5 378.8L167.6 379.8L168.8 380.7L170.0 381.7L171.1 382.7L172.4 383.7L173.8 384.8L175.1 385.8L176.4 386.8L177.7 387.8L179.0 388.8L180.3 389.7L181.6 390.7L182.9 391.6L184.2 392.5L185.5 393.4L186.9 394.2L188.2 395.1L189.5 395.9L190.8 396.7L192.1 397.5L193.4 398.3L194.7 399.0L196.0 399.7L197.5 400.5L198.9 401.3L200.4 402.0L201.9 402.8L203.3 403.5L204.8 404.1L206.2 404.8L207.7 405.4L209.1 406.1L210.6 406.7L212.1 407.2L213.5 407.8L215.0 408.3L216.4 408.9L217.9 409.4L219.3 409.9L220.8 410.3L222.2 410.8L223.7 411.2L225.2 411.6L226.6 412.0L228.1 412.4L229.5 412.8L231.1 413.2L232.7 413.6L234.3 413.9L235.9 414.2L237.5 414.6L239.1 414.9L240.7 415.2L242.3 415.4L243.9 415.7L245.5 415.9L247.1 416.2L248.7 416.4L250.3 416.6L252.0 416.7L253.6 416.9L255.2 417.1L256.8 417.2L258.4 417.4L260.0 417.5L261.6 417.6L263.2 417.7L264.8 417.8L266.4 417.9L268.0 418.0L269.6 418.0L271.2 418.1L272.8 418.2L274.4 418.2L276.0 418.2L277.6 418.3L279.2 418.3L280.8 418.3L282.4 418.3L284.0 418.3L285.6 418.3L287.2 418.3L288.8 418.3L290.4 418.3L292.0 418.3L293.6 418.3L295.2 418.3L296.8 418.3L298.4 418.3L300.0 418.3L301.6 418.2L303.2 418.2L304.8 418.2L306.4 418.2L308.0 418.2L309.6 418.2L311.2 418.2L312.8 418.2L314.4 418.2L316.0 418.2L317.6 418.2L319.2 418.2L320.8 418.2L322.4 418.2L324.0 418.2L325.6 418.3L327.2 418.3L328.8 418.4L330.4 418.4L332.0 418.5L333.5 418.5" fill="none" stroke="#0000fa" stroke-width="2.3" stroke-dasharray="3.6 3.9" stroke-linejoin="round"/>
<path d="M42.4 317.1L43.9 316.4L45.3 315.8L46.8 315.2L48.2 314.6L49.7 314.1L51.1 313.6L52.6 313.1L54.0 312.7L55.5 312.3L57.1 312.0L58.7 311.7L60.3 311.4L61.9 311.2L63.5 311.0L65.1 310.9L66.7 310.9L68.3 310.8L69.9 310.9L71.5 311.0L73.1 311.2L74.7 311.4L76.3 311.6L77.9 312.0L79.5 312.3L81.0 312.7L82.4 313.2L83.9 313.6L85.4 314.2L86.8 314.7L88.3 315.3L89.7 316.0L91.2 316.6L92.6 317.3L94.1 318.1L95.6 318.9L97.0 319.7L98.3 320.4L99.6 321.2L100.9 322.0L102.3 322.8L103.6 323.7L104.9 324.6L106.2 325.5L107.5 326.4L108.8 327.3L110.1 328.2L111.4 329.2L112.7 330.2L114.0 331.1L115.4 332.1L116.7 333.2L118.0 334.2L119.3 335.2L120.6 336.3L121.9 337.3L123.1 338.3L124.2 339.2L125.4 340.2L126.6 341.1L127.7 342.1L128.9 343.1L130.1 344.1L131.2 345.1L132.4 346.1L133.6 347.1L134.7 348.1L135.9 349.1L137.1 350.1L138.2 351.1L139.4 352.1L140.5 353.1L141.7 354.1L142.9 355.2L144.0 356.2L145.2 357.2L146.4 358.2L147.5 359.2L148.7 360.3L149.9 361.3L151.0 362.3L152.2 363.3L153.4 364.3L154.5 365.3L155.7 366.3L156.9 367.3L158.0 368.3L159.2 369.3L160.4 370.3L161.5 371.3L162.7 372.2L163.8 373.2L165.0 374.2L166.2 375.1L167.3 376.1L168.7 377.1L170.0 378.2L171.3 379.2L172.6 380.3L173.9 381.3L175.2 382.3L176.5 383.3L177.8 384.2L179.1 385.2L180.5 386.2L181.8 387.1L183.1 388.0L184.4 388.9L185.7 389.8L187.0 390.7L188.3 391.5L189.6 392.3L190.9 393.1L192.2 393.9L193.6 394.7L194.9 395.5L196.2 396.2L197.6 397.0L199.1 397.8L200.5 398.6L202.0 399.3L203.5 400.0L204.9 400.7L206.4 401.4L207.8 402.1L209.3 402.7L210.7 403.4L212.2 404.0L213.7 404.6L215.1 405.1L216.6 405.7L218.0 406.2L219.5 406.8L220.9 407.3L222.4 407.8L223.8 408.2L225.3 408.7L226.8 409.1L228.2 409.6L229.7 410.0L231.1 410.4L232.6 410.7L234.0 411.1L235.6 411.5L237.2 411.9L238.8 412.2L240.4 412.6L242.0 412.9L243.7 413.2L245.3 413.5L246.9 413.8L248.5 414.1L250.1 414.3L251.7 414.6L253.3 414.8L254.9 415.0L256.5 415.2L258.1 415.4L259.7 415.6L261.3 415.8L262.9 415.9L264.5 416.1L266.1 416.2L267.7 416.4L269.3 416.5L270.9 416.6L272.5 416.7L274.1 416.8L275.7 416.9L277.3 417.0L278.9 417.1L280.5 417.2L282.1 417.2L283.7 417.3L285.3 417.3L286.9 417.4L288.5 417.4L290.1 417.5L291.7 417.5L293.3 417.6L294.9 417.6L296.5 417.6L298.1 417.7L299.7 417.7L301.3 417.7L302.9 417.7L304.5 417.8L306.1 417.8L307.7 417.8L309.3 417.8L310.9 417.9L312.5 417.9L314.1 417.9L315.7 418.0L317.3 418.0L318.9 418.0L320.5 418.1L322.1 418.1L323.7 418.2L325.3 418.2L326.9 418.3L328.5 418.3L330.2 418.4L331.8 418.5L333.4 418.5L333.5 418.5" fill="none" stroke="#000000" stroke-width="2.4" stroke-dasharray="9 12.7" stroke-linejoin="round"/>
<rect x="36.5" y="256.5" width="302.8" height="170.9" fill="none" stroke="#a3a3a3" stroke-width="1"/>
<path d="M42.4 427.4v-3M42.4 256.5v3M58.6 427.4v-1.8M58.6 256.5v1.8M74.7 427.4v-1.8M74.7 256.5v1.8M90.9 427.4v-1.8M90.9 256.5v1.8M107.1 427.4v-3M107.1 256.5v3M123.2 427.4v-1.8M123.2 256.5v1.8M139.4 427.4v-1.8M139.4 256.5v1.8M155.6 427.4v-1.8M155.6 256.5v1.8M171.8 427.4v-3M171.8 256.5v3M187.9 427.4v-1.8M187.9 256.5v1.8M204.1 427.4v-1.8M204.1 256.5v1.8M220.3 427.4v-1.8M220.3 256.5v1.8M236.4 427.4v-3M236.4 256.5v3M252.6 427.4v-1.8M252.6 256.5v1.8M268.8 427.4v-1.8M268.8 256.5v1.8M284.9 427.4v-1.8M284.9 256.5v1.8M301.1 427.4v-3M301.1 256.5v3M317.3 427.4v-1.8M317.3 256.5v1.8M333.5 427.4v-1.8M333.5 256.5v1.8M36.5 424h1.8M339.3 424h-1.8M36.5 418.4h3M339.3 418.4h-3M36.5 412.8h1.8M339.3 412.8h-1.8M36.5 407.3h1.8M339.3 407.3h-1.8M36.5 401.7h1.8M339.3 401.7h-1.8M36.5 396.1h3M339.3 396.1h-3M36.5 390.6h1.8M339.3 390.6h-1.8M36.5 385h1.8M339.3 385h-1.8M36.5 379.4h1.8M339.3 379.4h-1.8M36.5 373.9h3M339.3 373.9h-3M36.5 368.3h1.8M339.3 368.3h-1.8M36.5 362.7h1.8M339.3 362.7h-1.8M36.5 357.2h1.8M339.3 357.2h-1.8M36.5 351.6h3M339.3 351.6h-3M36.5 346h1.8M339.3 346h-1.8M36.5 340.5h1.8M339.3 340.5h-1.8M36.5 334.9h1.8M339.3 334.9h-1.8M36.5 329.3h3M339.3 329.3h-3M36.5 323.8h1.8M339.3 323.8h-1.8M36.5 318.2h1.8M339.3 318.2h-1.8M36.5 312.6h1.8M339.3 312.6h-1.8M36.5 307h3M339.3 307h-3M36.5 301.5h1.8M339.3 301.5h-1.8M36.5 295.9h1.8M339.3 295.9h-1.8M36.5 290.3h1.8M339.3 290.3h-1.8M36.5 284.8h3M339.3 284.8h-3M36.5 279.2h1.8M339.3 279.2h-1.8M36.5 273.6h1.8M339.3 273.6h-1.8M36.5 268.1h1.8M339.3 268.1h-1.8M36.5 262.5h3M339.3 262.5h-3" stroke="#a3a3a3" stroke-width="1" fill="none"/>
<text x="42.4" y="439.7" class="tl" style="font-size:11px" text-anchor="middle">0</text>
<text x="107.1" y="439.7" class="tl" style="font-size:11px" text-anchor="middle">2</text>
<text x="171.8" y="439.7" class="tl" style="font-size:11px" text-anchor="middle">4</text>
<text x="236.4" y="439.7" class="tl" style="font-size:11px" text-anchor="middle">6</text>
<text x="301.1" y="439.7" class="tl" style="font-size:11px" text-anchor="middle">8</text>
<text x="33.5" y="422.3" class="tl" style="font-size:11px" text-anchor="end">0.0</text>
<text x="33.5" y="400.1" class="tl" style="font-size:11px" text-anchor="end">0.2</text>
<text x="33.5" y="377.8" class="tl" style="font-size:11px" text-anchor="end">0.4</text>
<text x="33.5" y="355.5" class="tl" style="font-size:11px" text-anchor="end">0.6</text>
<text x="33.5" y="333.3" class="tl" style="font-size:11px" text-anchor="end">0.8</text>
<text x="33.5" y="311" class="tl" style="font-size:11px" text-anchor="end">1.0</text>
<text x="33.5" y="288.7" class="tl" style="font-size:11px" text-anchor="end">1.2</text>
<text x="33.5" y="266.4" class="tl" style="font-size:11px" text-anchor="end">1.4</text>
<text x="327.7" y="279.3" class="pl" style="font-size:16.8px" text-anchor="end">(c)</text>
<line x1="226.2" y1="320.1" x2="263.9" y2="320.1" stroke="#fa0000" stroke-width="2.1"/>
<text x="269.9" y="324" class="tl" style="font-size:10.8px">t=0.1</text>
<line x1="226.2" y1="339.4" x2="263.9" y2="339.4" stroke="#0000fa" stroke-width="2.3" stroke-dasharray="3.6 3.9"/>
<text x="269.9" y="343.3" class="tl" style="font-size:10.8px">t=0.4</text>
<line x1="226.2" y1="358.2" x2="263.9" y2="358.2" stroke="#000000" stroke-width="2.4" stroke-dasharray="9 12.7"/>
<text x="269.9" y="362.1" class="tl" style="font-size:10.8px">t=0.7</text>
<text x="188" y="456.5" class="at" style="font-size:10.6px" text-anchor="middle">distance <tspan class="ar">→</tspan> X</text>
<text transform="translate(9.2 344.6) rotate(-90)" class="at" style="font-size:10.5px;stroke-width:0.3px" text-anchor="middle">ϕ <tspan class="ar">→</tspan> ϕ</text>
<line x1="408.6" y1="345" x2="683.5" y2="345" stroke="#dadada" stroke-width="1"/>
<path d="M413.7 313.8L414.0 312.0L414.2 310.2L414.5 308.5L414.8 306.9L415.0 305.2L415.3 303.6L415.6 302.1L415.8 300.6L416.1 299.1L416.5 297.0L416.9 294.9L417.3 292.9L417.7 291.0L418.1 289.2L418.5 287.4L418.9 285.7L419.3 284.1L419.7 282.6L420.1 281.2L420.6 279.3L421.1 277.6L421.7 276.1L422.2 274.6L422.8 272.9L423.5 271.5L424.3 269.9L425.1 268.6L426.0 267.3L427.1 266.2L428.4 265.4L429.9 265.1L431.5 265.4L432.8 266.2L434.0 267.2L435.0 268.4L436.0 269.6L436.9 271.0L437.7 272.4L438.5 273.8L439.3 275.4L439.9 276.8L440.6 278.3L441.3 279.8L441.9 281.4L442.6 283.0L443.3 284.8L443.8 286.2L444.3 287.6L444.9 289.1L445.4 290.6L445.9 292.1L446.4 293.7L447.0 295.3L447.5 296.9L448.0 298.6L448.6 300.2L449.1 301.9L449.6 303.6L450.2 305.3L450.7 307.1L451.2 308.8L451.7 310.6L452.3 312.4L452.8 314.2L453.3 316.0L453.9 317.8L454.4 319.7L454.9 321.5L455.5 323.3L456.0 325.2L456.5 327.0L457.0 328.9L457.6 330.7L458.1 332.6L458.6 334.4L459.2 336.3L459.7 338.1L460.2 340.0L460.8 341.8L461.3 343.6L461.8 345.4L462.4 347.3L462.9 349.0L463.4 350.8L463.9 352.6L464.5 354.4L465.0 356.1L465.5 357.8L466.1 359.5L466.6 361.2L467.1 362.9L467.7 364.5L468.2 366.2L468.7 367.8L469.2 369.4L469.8 370.9L470.3 372.5L470.8 374.0L471.4 375.5L471.9 377.0L472.4 378.4L473.0 379.8L473.6 381.6L474.3 383.2L474.9 384.9L475.6 386.5L476.3 388.0L476.9 389.5L477.6 391.0L478.3 392.4L479.1 394.0L479.9 395.5L480.6 397.0L481.4 398.3L482.2 399.6L483.2 401.0L484.1 402.3L485.0 403.5L486.1 404.7L487.1 405.8L488.3 406.9L489.5 407.8L490.9 408.7L492.3 409.4L493.8 410.0L495.2 410.3L496.8 410.5L498.4 410.5L500.0 410.2L501.5 409.9L502.9 409.3L504.4 408.7L505.7 408.0L507.0 407.2L508.4 406.3L509.7 405.3L510.9 404.3L512.1 403.3L513.3 402.3L514.5 401.2L515.6 400.0L516.7 398.9L517.8 397.8L518.8 396.7L519.9 395.6L520.9 394.4L522.0 393.2L523.1 391.9L524.1 390.6L525.2 389.4L526.2 388.0L527.3 386.7L528.2 385.5L529.2 384.3L530.1 383.1L531.0 381.9L531.9 380.7L532.9 379.4L533.8 378.1L534.7 376.9L535.7 375.6L536.6 374.3L537.5 373.0L538.4 371.7L539.4 370.4L540.3 369.1L541.2 367.8L542.2 366.5L543.1 365.2L544.0 363.9L544.9 362.7L545.9 361.5L546.8 360.3L547.9 358.9L548.9 357.6L550.0 356.4L551.0 355.2L552.1 354.0L553.2 352.9L554.2 351.8L555.4 350.6L556.6 349.5L557.8 348.4L559.0 347.3L560.2 346.3L561.4 345.4L562.6 344.5L563.9 343.5L565.2 342.6L566.5 341.7L567.9 340.9L569.2 340.1L570.5 339.4L572.0 338.7L573.4 338.0L574.9 337.4L576.4 336.8L577.8 336.3L579.3 335.8L580.7 335.4L582.2 335.0L583.8 334.7L585.4 334.4L587.0 334.1L588.6 333.9L590.1 333.8L591.7 333.7L593.3 333.6L594.9 333.6L596.5 333.6L598.1 333.7L599.7 333.8L601.3 333.9L602.9 334.1L604.5 334.3L606.1 334.6L607.6 334.8L609.2 335.1L610.8 335.4L612.4 335.8L614.0 336.2L615.5 336.5L616.9 336.9L618.4 337.3L619.8 337.7L621.3 338.1L622.8 338.5L624.2 338.9L625.7 339.3L627.1 339.7L628.6 340.1L630.0 340.6L631.5 341.0L633.0 341.4L634.4 341.8L635.9 342.1L637.3 342.5L638.8 342.9L640.4 343.2L642.0 343.6L643.6 343.9L645.2 344.2L646.8 344.4L648.3 344.6L649.9 344.8L651.5 345.0L653.1 345.2L654.7 345.3L656.3 345.4L657.9 345.5L659.5 345.5L661.1 345.6L662.7 345.7L664.3 345.7L665.8 345.7L667.4 345.8L669.0 345.8L670.6 345.9L672.2 345.9L673.8 346.0L675.4 346.0L677.0 346.1L678.6 346.2L678.7 346.2" fill="none" stroke="#fa0000" stroke-width="2.1" stroke-linejoin="round"/>
<path d="M413.7 360.1L414.0 357.8L414.2 355.6L414.5 353.3L414.8 351.1L415.0 349.0L415.3 346.8L415.6 344.7L415.8 342.6L416.1 340.6L416.4 338.6L416.6 336.6L416.9 334.6L417.1 332.7L417.4 330.8L417.7 328.9L417.9 327.0L418.2 325.2L418.5 323.4L418.7 321.7L419.0 319.9L419.3 318.2L419.5 316.6L419.8 314.9L420.1 313.3L420.3 311.7L420.6 310.2L420.9 308.6L421.1 307.1L421.5 305.0L421.9 302.8L422.3 300.8L422.7 298.8L423.1 296.9L423.5 295.0L423.9 293.2L424.3 291.5L424.7 289.8L425.1 288.2L425.5 286.6L425.9 285.1L426.4 283.3L427.0 281.5L427.5 279.8L428.0 278.2L428.5 276.8L429.2 275.1L429.9 273.6L430.5 272.2L431.3 270.8L432.3 269.4L433.3 268.1L434.5 267.1L436.0 266.5L437.6 266.5L439.0 267.0L440.3 268.0L441.5 269.2L442.6 270.5L443.5 271.8L444.5 273.2L445.3 274.6L446.0 276.1L446.8 277.6L447.5 279.0L448.2 280.4L448.8 281.9L449.5 283.4L450.2 285.0L450.8 286.6L451.5 288.3L452.1 290.0L452.7 291.4L453.2 292.9L453.7 294.3L454.3 295.8L454.8 297.4L455.3 298.9L455.9 300.5L456.4 302.1L456.9 303.7L457.4 305.4L458.0 307.0L458.5 308.7L459.0 310.4L459.6 312.2L460.1 313.9L460.6 315.7L461.2 317.5L461.7 319.3L462.2 321.2L462.7 323.0L463.3 324.9L463.8 326.8L464.3 328.7L464.9 330.6L465.4 332.5L465.9 334.4L466.5 336.4L467.0 338.3L467.5 340.2L468.1 342.1L468.6 344.0L469.1 345.9L469.6 347.8L470.2 349.6L470.7 351.5L471.2 353.3L471.8 355.0L472.3 356.8L472.8 358.5L473.4 360.2L473.9 361.8L474.4 363.4L474.9 365.0L475.5 366.5L476.0 368.0L476.5 369.5L477.1 371.0L477.6 372.4L478.3 374.1L478.9 375.8L479.6 377.5L480.2 379.1L480.9 380.6L481.6 382.1L482.2 383.6L482.9 385.0L483.6 386.4L484.2 387.8L485.0 389.3L485.8 390.8L486.6 392.3L487.4 393.7L488.2 395.0L489.1 396.5L490.1 397.9L491.0 399.2L491.9 400.4L493.0 401.7L494.0 403.0L495.1 404.1L496.3 405.2L497.5 406.3L498.8 407.3L500.1 408.1L501.6 408.9L503.0 409.4L504.5 409.9L506.1 410.1L507.7 410.2L509.3 410.0L510.9 409.7L512.3 409.2L513.8 408.5L515.1 407.8L516.4 407.0L517.8 406.0L519.0 405.1L520.2 404.1L521.3 403.0L522.5 401.8L523.6 400.8L524.7 399.7L525.7 398.5L526.8 397.4L527.8 396.2L528.9 395.0L530.0 393.8L531.0 392.6L532.1 391.3L533.1 390.1L534.2 388.8L535.3 387.5L536.3 386.2L537.3 385.0L538.2 383.7L539.1 382.5L540.0 381.1L541.0 379.8L541.9 378.5L542.8 377.1L543.7 375.7L544.7 374.4L545.6 373.0L546.5 371.7L547.5 370.4L548.4 369.1L549.3 367.9L550.2 366.7L551.2 365.5L552.2 364.1L553.3 362.8L554.4 361.6L555.4 360.3L556.5 359.1L557.5 358.0L558.6 356.8L559.7 355.7L560.7 354.6L561.9 353.5L563.1 352.3L564.3 351.2L565.5 350.2L566.7 349.2L567.9 348.2L569.1 347.2L570.4 346.2L571.7 345.3L573.0 344.4L574.4 343.5L575.7 342.7L577.0 341.9L578.3 341.1L579.7 340.4L581.1 339.7L582.6 339.0L584.0 338.4L585.5 337.8L587.0 337.3L588.4 336.8L589.9 336.4L591.3 336.0L592.8 335.6L594.4 335.3L596.0 335.0L597.6 334.8L599.2 334.6L600.8 334.4L602.3 334.3L603.9 334.3L605.5 334.3L607.1 334.3L608.7 334.4L610.3 334.6L611.9 334.7L613.5 334.9L615.1 335.2L616.7 335.5L618.2 335.8L619.8 336.2L621.4 336.5L622.9 336.9L624.3 337.3L625.8 337.6L627.3 338.0L628.7 338.4L630.2 338.8L631.6 339.2L633.1 339.6L634.6 340.0L636.0 340.4L637.5 340.8L638.9 341.2L640.5 341.6L642.1 341.9L643.7 342.2L645.3 342.5L646.9 342.8L648.5 343.1L650.1 343.3L651.7 343.5L653.2 343.6L654.8 343.8L656.4 343.9L658.0 344.0L659.6 344.1L661.2 344.2L662.8 344.3L664.4 344.3L666.0 344.4L667.6 344.5L669.2 344.6L670.7 344.7L672.3 344.8L673.9 345.0L675.5 345.1L677.1 345.3L678.7 345.5" fill="none" stroke="#0000fa" stroke-width="2.3" stroke-dasharray="3.6 4.4" stroke-linejoin="round"/>
<path d="M413.7 415.2L414.0 412.2L414.2 409.3L414.5 406.4L414.8 403.5L415.0 400.7L415.3 397.8L415.6 395.0L415.8 392.3L416.1 389.5L416.4 386.8L416.6 384.1L416.9 381.5L417.1 378.9L417.4 376.3L417.7 373.7L417.9 371.2L418.2 368.7L418.5 366.2L418.7 363.7L419.0 361.3L419.3 359.0L419.5 356.6L419.8 354.3L420.1 352.0L420.3 349.8L420.6 347.6L420.9 345.4L421.1 343.2L421.4 341.1L421.7 339.0L421.9 337.0L422.2 334.9L422.4 333.0L422.7 331.0L423.0 329.1L423.2 327.2L423.5 325.4L423.8 323.6L424.0 321.8L424.3 320.0L424.6 318.3L424.8 316.6L425.1 315.0L425.4 313.3L425.6 311.7L425.9 310.2L426.2 308.6L426.4 307.1L426.8 304.9L427.2 302.8L427.6 300.7L428.0 298.7L428.4 296.7L428.8 294.9L429.2 293.0L429.6 291.3L430.0 289.6L430.4 287.9L430.8 286.3L431.2 284.8L431.6 283.3L432.1 281.4L432.7 279.6L433.2 277.9L433.7 276.3L434.2 274.8L434.8 273.3L435.4 271.7L436.1 270.2L436.8 268.8L437.6 267.4L438.5 265.9L439.4 264.7L440.5 263.6L441.8 262.8L443.3 262.4L444.9 262.6L446.2 263.3L447.4 264.3L448.4 265.5L449.4 266.8L450.3 268.2L451.1 269.6L451.9 271.1L452.7 272.7L453.3 274.1L454.0 275.6L454.7 277.2L455.3 278.8L456.0 280.5L456.7 282.2L457.2 283.6L457.7 285.1L458.2 286.6L458.8 288.1L459.3 289.6L459.8 291.1L460.4 292.7L460.9 294.3L461.4 295.9L462.0 297.5L462.5 299.1L463.0 300.8L463.5 302.4L464.1 304.1L464.6 305.7L465.1 307.4L465.7 309.0L466.2 310.7L466.7 312.4L467.3 314.0L467.8 315.7L468.3 317.4L468.8 319.0L469.4 320.7L469.9 322.4L470.4 324.0L471.0 325.7L471.5 327.4L472.0 329.1L472.6 330.7L473.1 332.4L473.6 334.1L474.2 335.7L474.7 337.4L475.2 339.0L475.7 340.7L476.3 342.3L476.8 344.0L477.3 345.6L477.9 347.2L478.4 348.8L478.9 350.4L479.5 352.1L480.0 353.7L480.5 355.3L481.0 356.8L481.6 358.4L482.1 360.0L482.6 361.5L483.2 363.1L483.7 364.6L484.2 366.1L484.8 367.6L485.3 369.1L485.8 370.6L486.3 372.0L486.9 373.4L487.4 374.9L488.1 376.6L488.7 378.3L489.4 380.0L490.1 381.6L490.7 383.2L491.4 384.7L492.0 386.2L492.7 387.7L493.4 389.1L494.0 390.5L494.8 392.1L495.6 393.5L496.4 395.0L497.2 396.3L498.1 397.8L499.1 399.1L500.0 400.4L501.1 401.7L502.1 402.8L503.3 404.0L504.5 405.0L505.8 406.0L507.2 406.8L508.6 407.5L510.1 408.1L511.5 408.5L513.1 408.7L514.7 408.9L516.3 408.9L517.9 408.7L519.5 408.4L520.9 408.0L522.4 407.5L523.9 406.8L525.2 406.1L526.5 405.2L527.8 404.3L529.0 403.3L530.2 402.3L531.4 401.2L532.5 400.1L533.5 399.0L534.6 397.8L535.7 396.5L536.7 395.2L537.8 393.9L538.7 392.7L539.6 391.5L540.6 390.3L541.5 389.0L542.4 387.8L543.3 386.5L544.3 385.3L545.2 384.0L546.1 382.7L547.1 381.5L548.0 380.2L548.9 379.0L549.8 377.8L550.8 376.5L551.7 375.3L552.6 374.1L553.6 372.9L554.6 371.6L555.7 370.3L556.7 369.0L557.8 367.7L558.9 366.4L559.9 365.1L561.0 363.9L562.0 362.7L563.1 361.5L564.2 360.3L565.2 359.2L566.3 358.1L567.3 356.9L568.4 355.9L569.6 354.7L570.8 353.5L572.0 352.4L573.2 351.3L574.4 350.3L575.6 349.3L576.8 348.3L577.9 347.4L579.3 346.4L580.6 345.5L581.9 344.6L583.3 343.7L584.6 342.9L585.9 342.2L587.4 341.4L588.8 340.7L590.3 340.1L591.7 339.5L593.2 338.9L594.7 338.4L596.1 337.9L597.6 337.5L599.0 337.2L600.6 336.8L602.2 336.5L603.8 336.2L605.4 336.0L607.0 335.9L608.6 335.7L610.2 335.6L611.8 335.6L613.3 335.6L614.9 335.6L616.5 335.6L618.1 335.7L619.7 335.8L621.3 335.9L622.9 336.1L624.5 336.3L626.1 336.5L627.7 336.7L629.3 336.9L630.8 337.2L632.4 337.5L634.0 337.7L635.6 338.0L637.2 338.4L638.8 338.7L640.4 339.0L642.0 339.3L643.6 339.7L645.2 340.0L646.8 340.4L648.3 340.7L649.9 341.1L651.5 341.4L653.1 341.7L654.7 342.1L656.3 342.4L657.9 342.7L659.5 343.0L661.1 343.3L662.7 343.5L664.3 343.8L665.8 344.0L667.4 344.2L669.0 344.4L670.6 344.6L672.2 344.8L673.8 344.9L675.4 345.0L677.0 345.1L678.6 345.1L678.7 345.1" fill="none" stroke="#000000" stroke-width="2.4" stroke-dasharray="9.6 13.4" stroke-linejoin="round"/>
<rect x="408.6" y="254.3" width="274.9" height="169.5" fill="none" stroke="#a3a3a3" stroke-width="1"/>
<path d="M413.7 423.8v-3M413.7 254.3v3M428.4 423.8v-1.8M428.4 254.3v1.8M443.1 423.8v-1.8M443.1 254.3v1.8M457.8 423.8v-1.8M457.8 254.3v1.8M472.5 423.8v-3M472.5 254.3v3M487.2 423.8v-1.8M487.2 254.3v1.8M501.9 423.8v-1.8M501.9 254.3v1.8M516.6 423.8v-1.8M516.6 254.3v1.8M531.3 423.8v-3M531.3 254.3v3M546 423.8v-1.8M546 254.3v1.8M560.6 423.8v-1.8M560.6 254.3v1.8M575.3 423.8v-1.8M575.3 254.3v1.8M590 423.8v-3M590 254.3v3M604.7 423.8v-1.8M604.7 254.3v1.8M619.4 423.8v-1.8M619.4 254.3v1.8M634.1 423.8v-1.8M634.1 254.3v1.8M648.8 423.8v-3M648.8 254.3v3M663.5 423.8v-1.8M663.5 254.3v1.8M678.2 423.8v-1.8M678.2 254.3v1.8M408.6 418.8h1.8M683.5 418.8h-1.8M408.6 414.1h3M683.5 414.1h-3M408.6 409.5h1.8M683.5 409.5h-1.8M408.6 404.9h1.8M683.5 404.9h-1.8M408.6 400.3h1.8M683.5 400.3h-1.8M408.6 395.7h1.8M683.5 395.7h-1.8M408.6 391.1h3M683.5 391.1h-3M408.6 386.5h1.8M683.5 386.5h-1.8M408.6 381.9h1.8M683.5 381.9h-1.8M408.6 377.3h1.8M683.5 377.3h-1.8M408.6 372.7h1.8M683.5 372.7h-1.8M408.6 368.1h3M683.5 368.1h-3M408.6 363.4h1.8M683.5 363.4h-1.8M408.6 358.8h1.8M683.5 358.8h-1.8M408.6 354.2h1.8M683.5 354.2h-1.8M408.6 349.6h1.8M683.5 349.6h-1.8M408.6 345h3M683.5 345h-3M408.6 340.4h1.8M683.5 340.4h-1.8M408.6 335.8h1.8M683.5 335.8h-1.8M408.6 331.2h1.8M683.5 331.2h-1.8M408.6 326.6h1.8M683.5 326.6h-1.8M408.6 321.9h3M683.5 321.9h-3M408.6 317.3h1.8M683.5 317.3h-1.8M408.6 312.7h1.8M683.5 312.7h-1.8M408.6 308.1h1.8M683.5 308.1h-1.8M408.6 303.5h1.8M683.5 303.5h-1.8M408.6 298.9h3M683.5 298.9h-3M408.6 294.3h1.8M683.5 294.3h-1.8M408.6 289.7h1.8M683.5 289.7h-1.8M408.6 285.1h1.8M683.5 285.1h-1.8M408.6 280.5h1.8M683.5 280.5h-1.8M408.6 275.9h3M683.5 275.9h-3M408.6 271.2h1.8M683.5 271.2h-1.8M408.6 266.6h1.8M683.5 266.6h-1.8M408.6 262h1.8M683.5 262h-1.8M408.6 257.4h1.8M683.5 257.4h-1.8" stroke="#a3a3a3" stroke-width="1" fill="none"/>
<text x="413.7" y="436.1" class="tl" style="font-size:11.5px" text-anchor="middle">0</text>
<text x="472.5" y="436.1" class="tl" style="font-size:11.5px" text-anchor="middle">2</text>
<text x="531.3" y="436.1" class="tl" style="font-size:11.5px" text-anchor="middle">4</text>
<text x="590" y="436.1" class="tl" style="font-size:11.5px" text-anchor="middle">6</text>
<text x="648.8" y="436.1" class="tl" style="font-size:11.5px" text-anchor="middle">8</text>
<text x="405.6" y="418.3" class="tl" style="font-size:11.5px" text-anchor="end">−0.15</text>
<text x="405.6" y="395.2" class="tl" style="font-size:11.5px" text-anchor="end">−0.10</text>
<text x="405.6" y="372.2" class="tl" style="font-size:11.5px" text-anchor="end">−0.05</text>
<text x="405.6" y="349.1" class="tl" style="font-size:11.5px" text-anchor="end">0.00</text>
<text x="405.6" y="326.1" class="tl" style="font-size:11.5px" text-anchor="end">0.05</text>
<text x="405.6" y="303" class="tl" style="font-size:11.5px" text-anchor="end">0.10</text>
<text x="405.6" y="280" class="tl" style="font-size:11.5px" text-anchor="end">0.15</text>
<text x="675.6" y="285.7" class="pl" style="font-size:19.5px" text-anchor="end">(d)</text>
<line x1="585" y1="362.2" x2="624.7" y2="362.2" stroke="#fa0000" stroke-width="2.1"/>
<text x="631.2" y="366.2" class="tl" style="font-size:11.3px">t=0.1</text>
<line x1="585" y1="384.5" x2="624.7" y2="384.5" stroke="#0000fa" stroke-width="2.3" stroke-dasharray="3.6 4.4"/>
<text x="631.2" y="388.5" class="tl" style="font-size:11.3px">t=0.4</text>
<line x1="585" y1="406.7" x2="624.7" y2="406.7" stroke="#000000" stroke-width="2.4" stroke-dasharray="9.6 13.4"/>
<text x="631.2" y="410.7" class="tl" style="font-size:11.3px">t=0.7</text>
<text x="546.3" y="457.7" class="at" style="font-size:11.4px" text-anchor="middle">distance <tspan class="ar">→</tspan> X</text>
<text transform="translate(364.6 342.5) rotate(-90)" class="at" style="font-size:11.3px;" text-anchor="middle">displacement <tspan class="ar">→</tspan> u</text>
<path d="M48.4 692.9L49.1 691.5L49.8 689.8L50.4 688.3L51.0 686.7L51.5 685.0L52.1 683.2L52.7 681.4L53.1 679.9L53.5 678.4L54.0 676.8L54.4 675.2L54.8 673.5L55.2 671.8L55.7 670.1L56.1 668.3L56.5 666.5L56.9 664.7L57.4 662.8L57.8 660.9L58.2 659.0L58.7 657.1L59.1 655.1L59.5 653.1L59.9 651.1L60.4 649.1L60.8 647.0L61.2 645.0L61.6 642.9L62.1 640.8L62.5 638.7L62.9 636.7L63.4 634.6L63.8 632.5L64.2 630.4L64.6 628.3L65.1 626.2L65.5 624.2L65.9 622.1L66.4 620.1L66.8 618.0L67.2 616.0L67.6 614.0L68.1 612.0L68.5 610.0L68.9 608.1L69.3 606.1L69.8 604.2L70.2 602.3L70.6 600.4L71.1 598.6L71.5 596.7L71.9 594.9L72.3 593.1L72.8 591.3L73.2 589.5L73.6 587.8L74.0 586.1L74.5 584.4L74.9 582.7L75.3 581.0L75.8 579.4L76.2 577.8L76.6 576.2L77.0 574.7L77.5 573.1L77.9 571.6L78.3 570.1L78.7 568.7L79.3 566.8L79.9 565.0L80.5 563.2L81.0 561.5L81.6 559.8L82.2 558.2L82.7 556.6L83.3 555.1L83.9 553.6L84.6 551.9L85.3 550.3L86.0 548.8L86.7 547.3L87.4 546.0L88.3 544.5L89.1 543.1L90.0 541.8L91.0 540.5L92.0 539.3L93.1 538.2L94.4 537.2L95.7 536.4L97.1 535.7L98.7 535.4L100.3 535.3L101.8 535.6L103.4 536.1L104.8 536.8L106.1 537.6L107.4 538.5L108.5 539.5L109.7 540.6L110.8 541.8L111.9 543.1L112.9 544.3L113.9 545.5L114.9 546.8L115.9 548.2L116.9 549.7L117.8 550.9L118.6 552.2L119.5 553.6L120.3 554.9L121.2 556.3L122.1 557.7L122.9 559.2L123.8 560.6L124.6 562.1L125.5 563.6L126.3 565.1L127.2 566.6L128.0 568.2L128.9 569.7L129.8 571.3L130.6 572.9L131.3 574.2L132.0 575.6L132.7 576.9L133.5 578.2L134.2 579.6L134.9 580.9L135.6 582.3L136.3 583.7L137.0 585.0L137.7 586.4L138.4 587.7L139.2 589.1L139.9 590.4L140.6 591.8L141.3 593.1L142.0 594.5L142.7 595.8L143.4 597.2L144.1 598.5L144.9 599.8L145.7 601.4L146.6 602.9L147.4 604.5L148.3 606.0L149.1 607.6L150.0 609.1L150.8 610.5L151.7 612.0L152.5 613.4L153.4 614.9L154.3 616.2L155.1 617.6L156.0 619.0L156.8 620.3L157.7 621.6L158.5 622.8L159.4 624.1L160.4 625.5L161.4 626.9L162.4 628.2L163.4 629.5L164.4 630.8L165.4 632.1L166.4 633.3L167.4 634.5L168.4 635.7L169.4 636.8L170.5 638.1L171.6 639.3L172.8 640.5L173.9 641.7L175.1 642.9L176.2 644.0L177.3 645.1L178.5 646.1L179.6 647.2L180.8 648.2L181.9 649.2L183.2 650.3L184.5 651.3L185.7 652.4L187.0 653.4L188.3 654.4L189.6 655.3L190.9 656.3L192.2 657.2L193.4 658.1L194.7 659.0L196.0 659.9L197.3 660.7L198.6 661.6L199.8 662.4L201.1 663.2L202.4 664.0L203.8 664.9L205.3 665.7L206.7 666.6L208.1 667.4L209.5 668.1L211.0 668.9L212.4 669.7L213.8 670.4L215.2 671.1L216.7 671.8L218.1 672.5L219.5 673.1L220.9 673.8L222.4 674.4L223.8 675.0L225.2 675.6L226.6 676.2L228.1 676.8L229.5 677.3L230.9 677.8L232.3 678.4L233.8 678.9L235.2 679.4L236.6 679.8L238.2 680.3L239.7 680.8L241.3 681.3L242.9 681.8L244.4 682.2L246.0 682.6L247.6 683.0L249.1 683.4L250.7 683.8L252.3 684.2L253.8 684.5L255.4 684.9L257.0 685.2L258.5 685.5L260.1 685.8L261.7 686.1L263.2 686.4L264.8 686.7L266.4 687.0L267.9 687.2L269.5 687.5L271.1 687.7L272.6 687.9L274.2 688.1L275.8 688.3L277.4 688.5L278.9 688.7L280.5 688.9L282.1 689.1L283.6 689.2L285.2 689.4L286.8 689.5L288.3 689.7L289.9 689.8L291.5 690.0L293.0 690.1L294.6 690.2L296.2 690.3L297.7 690.4L299.3 690.6L300.9 690.7L302.4 690.8L304.0 690.9L305.6 691.0L307.1 691.1L308.7 691.2L310.3 691.3L311.8 691.4L313.4 691.5L315.0 691.6L316.5 691.6L318.1 691.7L319.7 691.8L321.2 691.9L322.8 692.0L324.4 692.1L325.9 692.2L327.5 692.3L329.1 692.4L330.6 692.5L332.2 692.7L333.2 692.7" fill="none" stroke="#fa0000" stroke-width="2.1" stroke-linejoin="round"/>
<path d="M48.4 692.9L49.1 691.6L49.8 690.0L50.5 688.3L51.1 686.7L51.7 685.1L52.2 683.3L52.8 681.5L53.2 680.0L53.7 678.5L54.1 677.0L54.5 675.4L55.0 673.7L55.4 672.1L55.8 670.3L56.2 668.6L56.7 666.7L57.1 664.9L57.5 663.0L57.9 661.1L58.4 659.2L58.8 657.2L59.2 655.2L59.7 653.2L60.1 651.2L60.5 649.1L60.9 647.1L61.4 645.0L61.8 642.9L62.2 640.8L62.6 638.6L63.1 636.5L63.5 634.4L63.9 632.3L64.4 630.1L64.8 628.0L65.2 625.9L65.6 623.7L66.1 621.6L66.5 619.5L66.9 617.4L67.3 615.3L67.8 613.3L68.2 611.2L68.6 609.2L69.1 607.1L69.5 605.1L69.9 603.1L70.3 601.1L70.8 599.2L71.2 597.2L71.6 595.3L72.1 593.4L72.5 591.5L72.9 589.6L73.3 587.7L73.8 585.9L74.2 584.1L74.6 582.3L75.0 580.5L75.5 578.7L75.9 577.0L76.3 575.3L76.8 573.6L77.2 572.0L77.6 570.3L78.0 568.7L78.5 567.2L78.9 565.6L79.3 564.1L79.7 562.6L80.2 561.1L80.7 559.2L81.3 557.4L81.9 555.6L82.5 553.8L83.0 552.1L83.6 550.5L84.2 549.0L84.7 547.5L85.3 546.0L86.0 544.3L86.7 542.7L87.4 541.2L88.1 539.7L88.9 538.4L89.7 536.9L90.6 535.5L91.4 534.2L92.4 532.9L93.4 531.8L94.6 530.6L95.8 529.6L97.1 528.8L98.5 528.1L100.1 527.7L101.7 527.6L103.3 527.8L104.8 528.3L106.2 529.0L107.7 529.8L109.0 530.7L110.2 531.8L111.4 532.9L112.5 534.0L113.7 535.3L114.6 536.5L115.6 537.7L116.6 539.0L117.6 540.3L118.6 541.7L119.6 543.2L120.5 544.4L121.3 545.7L122.2 547.1L123.1 548.4L123.9 549.8L124.8 551.2L125.6 552.6L126.5 554.1L127.3 555.5L128.2 557.0L129.0 558.5L129.9 560.0L130.7 561.5L131.6 563.1L132.5 564.6L133.3 566.2L134.2 567.8L134.9 569.1L135.6 570.4L136.3 571.8L137.0 573.1L137.7 574.4L138.4 575.8L139.2 577.1L139.9 578.5L140.6 579.8L141.3 581.2L142.0 582.5L142.7 583.8L143.4 585.2L144.1 586.5L144.9 587.9L145.6 589.2L146.3 590.5L147.1 592.1L148.0 593.7L148.8 595.2L149.7 596.8L150.6 598.3L151.4 599.8L152.3 601.4L153.1 602.8L154.0 604.3L154.8 605.8L155.7 607.2L156.5 608.6L157.4 610.0L158.2 611.4L159.1 612.7L160.0 614.1L160.8 615.4L161.7 616.7L162.5 617.9L163.4 619.2L164.4 620.6L165.4 622.0L166.4 623.4L167.4 624.8L168.4 626.1L169.4 627.4L170.4 628.7L171.4 630.0L172.3 631.2L173.3 632.4L174.3 633.6L175.3 634.8L176.3 636.0L177.3 637.1L178.5 638.3L179.6 639.6L180.8 640.8L181.9 642.0L183.0 643.2L184.2 644.3L185.3 645.4L186.5 646.5L187.6 647.6L188.7 648.6L189.9 649.6L191.0 650.6L192.2 651.6L193.4 652.7L194.7 653.7L196.0 654.8L197.3 655.8L198.6 656.7L199.8 657.7L201.1 658.6L202.4 659.5L203.7 660.4L205.0 661.3L206.3 662.1L207.5 662.9L208.8 663.7L210.2 664.6L211.7 665.4L213.1 666.2L214.5 667.0L215.9 667.8L217.4 668.5L218.8 669.2L220.2 669.9L221.6 670.6L223.1 671.2L224.5 671.9L225.9 672.5L227.3 673.1L228.8 673.6L230.2 674.2L231.6 674.7L233.0 675.3L234.5 675.8L235.9 676.3L237.3 676.7L238.9 677.2L240.5 677.7L242.0 678.2L243.6 678.7L245.2 679.1L246.7 679.5L248.3 679.9L249.9 680.4L251.4 680.7L253.0 681.1L254.6 681.5L256.1 681.9L257.7 682.2L259.3 682.6L260.8 682.9L262.4 683.2L264.0 683.6L265.5 683.9L267.1 684.2L268.7 684.5L270.2 684.8L271.8 685.1L273.4 685.4L274.9 685.7L276.5 686.0L278.1 686.3L279.6 686.5L281.2 686.8L282.8 687.0L284.3 687.3L285.9 687.5L287.5 687.8L289.0 688.0L290.6 688.2L292.2 688.4L293.7 688.7L295.3 688.9L296.9 689.1L298.4 689.2L300.0 689.4L301.6 689.6L303.1 689.8L304.7 689.9L306.3 690.1L307.8 690.2L309.4 690.4L311.0 690.5L312.5 690.6L314.1 690.8L315.7 690.9L317.2 691.0L318.8 691.1L320.4 691.2L321.9 691.2L323.5 691.3L325.1 691.4L326.6 691.4L328.2 691.5L329.8 691.5L331.3 691.6L332.9 691.6L333.2 691.6" fill="none" stroke="#0000fa" stroke-width="2.3" stroke-dasharray="3.6 3.9" stroke-linejoin="round"/>
<path d="M48.4 692.9L49.3 691.4L50.0 689.8L50.7 688.1L51.2 686.6L51.8 685.0L52.4 683.3L53.0 681.5L53.5 679.6L54.0 678.2L54.4 676.7L54.8 675.1L55.2 673.5L55.7 671.8L56.1 670.1L56.5 668.4L56.9 666.7L57.4 664.9L57.8 663.1L58.2 661.2L58.7 659.3L59.1 657.4L59.5 655.5L59.9 653.6L60.4 651.6L60.8 649.7L61.2 647.7L61.6 645.7L62.1 643.7L62.5 641.7L62.9 639.7L63.4 637.7L63.8 635.7L64.2 633.7L64.6 631.7L65.1 629.7L65.5 627.7L65.9 625.8L66.4 623.8L66.8 621.9L67.2 620.0L67.6 618.1L68.1 616.2L68.5 614.3L68.9 612.4L69.3 610.6L69.8 608.8L70.2 607.0L70.6 605.2L71.1 603.4L71.5 601.7L71.9 599.9L72.3 598.2L72.8 596.5L73.2 594.8L73.6 593.2L74.0 591.6L74.5 589.9L74.9 588.3L75.3 586.8L75.8 585.2L76.2 583.7L76.6 582.2L77.0 580.7L77.5 579.2L77.9 577.7L78.5 575.8L79.0 574.0L79.6 572.2L80.2 570.4L80.7 568.6L81.3 567.0L81.9 565.3L82.5 563.7L83.0 562.2L83.6 560.7L84.2 559.2L84.7 557.8L85.4 556.1L86.2 554.5L86.9 553.0L87.6 551.5L88.3 550.1L89.1 548.6L90.0 547.1L90.9 545.7L91.7 544.5L92.7 543.1L93.7 541.9L94.8 540.6L96.0 539.6L97.3 538.5L98.5 537.7L100.0 537.0L101.4 536.5L103.0 536.2L104.5 536.1L106.1 536.3L107.7 536.7L109.1 537.2L110.5 537.9L111.8 538.7L113.1 539.6L114.4 540.6L115.5 541.6L116.6 542.7L117.8 543.9L118.9 545.1L119.9 546.3L120.9 547.5L121.9 548.7L122.9 550.0L123.9 551.3L124.9 552.7L125.9 554.1L126.8 555.3L127.6 556.6L128.5 557.9L129.3 559.2L130.2 560.6L131.0 561.9L131.9 563.3L132.7 564.7L133.6 566.1L134.5 567.6L135.3 569.0L136.2 570.5L137.0 572.0L137.9 573.4L138.7 574.9L139.6 576.4L140.4 577.9L141.3 579.5L142.1 581.0L143.0 582.5L143.9 584.0L144.7 585.5L145.6 587.0L146.4 588.6L147.3 590.1L148.1 591.6L149.0 593.1L149.8 594.6L150.7 596.0L151.5 597.5L152.4 599.0L153.3 600.4L154.1 601.8L155.0 603.2L155.8 604.6L156.7 606.0L157.5 607.3L158.4 608.7L159.2 610.0L160.1 611.3L161.0 612.6L161.8 613.8L162.7 615.1L163.7 616.5L164.7 617.9L165.7 619.3L166.7 620.7L167.6 622.0L168.6 623.4L169.6 624.7L170.6 625.9L171.6 627.2L172.6 628.4L173.6 629.6L174.6 630.8L175.6 632.0L176.6 633.2L177.6 634.3L178.8 635.6L179.9 636.8L181.0 638.1L182.2 639.3L183.3 640.5L184.5 641.6L185.6 642.8L186.7 643.9L187.9 645.0L189.0 646.0L190.2 647.1L191.3 648.1L192.4 649.1L193.6 650.1L194.9 651.2L196.1 652.3L197.4 653.3L198.7 654.3L200.0 655.3L201.3 656.3L202.6 657.3L203.8 658.2L205.1 659.1L206.4 660.0L207.7 660.9L209.0 661.7L210.2 662.5L211.5 663.3L212.8 664.1L214.2 665.0L215.7 665.8L217.1 666.6L218.5 667.4L219.9 668.1L221.4 668.9L222.8 669.6L224.2 670.3L225.6 670.9L227.1 671.6L228.5 672.2L229.9 672.8L231.3 673.4L232.8 674.0L234.2 674.6L235.6 675.1L237.0 675.7L238.5 676.2L239.9 676.7L241.3 677.2L242.7 677.6L244.3 678.1L245.9 678.6L247.4 679.1L249.0 679.5L250.6 680.0L252.1 680.4L253.7 680.8L255.3 681.2L256.8 681.6L258.4 682.0L260.0 682.4L261.5 682.7L263.1 683.1L264.7 683.4L266.2 683.8L267.8 684.1L269.4 684.4L270.9 684.7L272.5 685.0L274.1 685.3L275.6 685.6L277.2 685.9L278.8 686.2L280.3 686.5L281.9 686.7L283.5 687.0L285.0 687.2L286.6 687.4L288.2 687.7L289.7 687.9L291.3 688.1L292.9 688.3L294.4 688.5L296.0 688.7L297.6 688.9L299.1 689.1L300.7 689.2L302.3 689.4L303.9 689.6L305.4 689.7L307.0 689.9L308.6 690.0L310.1 690.2L311.7 690.3L313.3 690.4L314.8 690.6L316.4 690.7L318.0 690.8L319.5 690.9L321.1 691.0L322.7 691.1L324.2 691.2L325.8 691.3L327.4 691.3L328.9 691.4L330.5 691.5L332.1 691.6L333.2 691.6" fill="none" stroke="#000000" stroke-width="2.4" stroke-dasharray="9 12.7" stroke-linejoin="round"/>
<rect x="42.6" y="518.8" width="297.1" height="183.5" fill="none" stroke="#a3a3a3" stroke-width="1"/>
<path d="M48.5 702.3v-3M48.5 518.8v3M61.5 702.3v-1.8M61.5 518.8v1.8M74.4 702.3v-1.8M74.4 518.8v1.8M87.3 702.3v-1.8M87.3 518.8v1.8M100.3 702.3v-3M100.3 518.8v3M113.2 702.3v-1.8M113.2 518.8v1.8M126.2 702.3v-1.8M126.2 518.8v1.8M139.1 702.3v-1.8M139.1 518.8v1.8M152.1 702.3v-3M152.1 518.8v3M165.1 702.3v-1.8M165.1 518.8v1.8M178 702.3v-1.8M178 518.8v1.8M190.9 702.3v-1.8M190.9 518.8v1.8M203.9 702.3v-3M203.9 518.8v3M216.8 702.3v-1.8M216.8 518.8v1.8M229.8 702.3v-1.8M229.8 518.8v1.8M242.8 702.3v-1.8M242.8 518.8v1.8M255.7 702.3v-3M255.7 518.8v3M268.6 702.3v-1.8M268.6 518.8v1.8M281.6 702.3v-1.8M281.6 518.8v1.8M294.5 702.3v-1.8M294.5 518.8v1.8M307.5 702.3v-3M307.5 518.8v3M320.4 702.3v-1.8M320.4 518.8v1.8M333.4 702.3v-1.8M333.4 518.8v1.8M42.6 699.6h1.8M339.7 699.6h-1.8M42.6 693.3h3M339.7 693.3h-3M42.6 687h1.8M339.7 687h-1.8M42.6 680.8h1.8M339.7 680.8h-1.8M42.6 674.5h1.8M339.7 674.5h-1.8M42.6 668.2h1.8M339.7 668.2h-1.8M42.6 662h3M339.7 662h-3M42.6 655.7h1.8M339.7 655.7h-1.8M42.6 649.4h1.8M339.7 649.4h-1.8M42.6 643.2h1.8M339.7 643.2h-1.8M42.6 636.9h1.8M339.7 636.9h-1.8M42.6 630.6h3M339.7 630.6h-3M42.6 624.4h1.8M339.7 624.4h-1.8M42.6 618.1h1.8M339.7 618.1h-1.8M42.6 611.8h1.8M339.7 611.8h-1.8M42.6 605.5h1.8M339.7 605.5h-1.8M42.6 599.3h3M339.7 599.3h-3M42.6 593h1.8M339.7 593h-1.8M42.6 586.7h1.8M339.7 586.7h-1.8M42.6 580.5h1.8M339.7 580.5h-1.8M42.6 574.2h1.8M339.7 574.2h-1.8M42.6 567.9h3M339.7 567.9h-3M42.6 561.7h1.8M339.7 561.7h-1.8M42.6 555.4h1.8M339.7 555.4h-1.8M42.6 549.1h1.8M339.7 549.1h-1.8M42.6 542.9h1.8M339.7 542.9h-1.8M42.6 536.6h3M339.7 536.6h-3M42.6 530.3h1.8M339.7 530.3h-1.8M42.6 524.1h1.8M339.7 524.1h-1.8" stroke="#a3a3a3" stroke-width="1" fill="none"/>
<text x="48.5" y="714.6" class="tl" style="font-size:11px" text-anchor="middle">0</text>
<text x="100.3" y="714.6" class="tl" style="font-size:11px" text-anchor="middle">2</text>
<text x="152.1" y="714.6" class="tl" style="font-size:11px" text-anchor="middle">4</text>
<text x="203.9" y="714.6" class="tl" style="font-size:11px" text-anchor="middle">6</text>
<text x="255.7" y="714.6" class="tl" style="font-size:11px" text-anchor="middle">8</text>
<text x="307.5" y="714.6" class="tl" style="font-size:11px" text-anchor="middle">10</text>
<text x="39.6" y="697.2" class="tl" style="font-size:11px" text-anchor="end">0.00</text>
<text x="39.6" y="665.9" class="tl" style="font-size:11px" text-anchor="end">0.05</text>
<text x="39.6" y="634.6" class="tl" style="font-size:11px" text-anchor="end">0.10</text>
<text x="39.6" y="603.2" class="tl" style="font-size:11px" text-anchor="end">0.15</text>
<text x="39.6" y="571.9" class="tl" style="font-size:11px" text-anchor="end">0.20</text>
<text x="39.6" y="540.5" class="tl" style="font-size:11px" text-anchor="end">0.25</text>
<text x="332" y="544" class="pl" style="font-size:19.3px" text-anchor="end">(e)</text>
<line x1="236.2" y1="576.7" x2="273.9" y2="576.7" stroke="#fa0000" stroke-width="2.1"/>
<text x="279.9" y="580.6" class="tl" style="font-size:10.8px">t=0.1</text>
<line x1="236.2" y1="598.1" x2="273.9" y2="598.1" stroke="#0000fa" stroke-width="2.3" stroke-dasharray="3.6 3.9"/>
<text x="279.9" y="602" class="tl" style="font-size:10.8px">t=0.4</text>
<line x1="236.2" y1="618.5" x2="273.9" y2="618.5" stroke="#000000" stroke-width="2.4" stroke-dasharray="9 12.7"/>
<text x="279.9" y="622.4" class="tl" style="font-size:10.8px">t=0.7</text>
<text x="191" y="734.3" class="at" style="font-size:10.8px" text-anchor="middle">distance <tspan class="ar">→</tspan> X</text>
<text transform="translate(9.5 613.1) rotate(-90)" class="at" style="font-size:10.6px;" text-anchor="middle">normal stress <tspan class="ar">→</tspan> σxx</text>
<line x1="397.5" y1="604.2" x2="683.4" y2="604.2" stroke="#dadada" stroke-width="1"/>
<path d="M402.9 604.2L403.2 601.3L403.4 598.5L403.7 595.8L404.0 593.1L404.3 590.5L404.5 588.0L404.8 585.6L405.1 583.2L405.4 580.9L405.6 578.7L405.9 576.6L406.2 574.5L406.5 572.5L406.7 570.6L407.0 568.7L407.3 567.0L407.6 565.2L407.8 563.6L408.1 562.1L408.4 560.6L408.8 558.5L409.2 556.5L409.6 554.8L410.0 553.2L410.5 551.7L411.0 550.0L411.6 548.6L412.2 547.3L413.2 546.1L414.7 545.7L416.0 546.6L416.9 548.0L417.7 549.5L418.4 550.9L419.1 552.6L419.7 554.0L420.2 555.5L420.8 557.1L421.3 558.7L421.9 560.4L422.4 562.1L423.0 563.9L423.5 565.7L424.1 567.6L424.6 569.5L425.0 571.0L425.4 572.5L425.8 574.0L426.3 575.5L426.7 577.0L427.1 578.6L427.5 580.2L427.9 581.8L428.3 583.4L428.7 585.0L429.1 586.7L429.6 588.3L430.0 590.0L430.4 591.7L430.8 593.3L431.2 595.0L431.6 596.7L432.0 598.4L432.4 600.1L432.9 601.8L433.3 603.5L433.7 605.2L434.1 606.9L434.5 608.7L434.9 610.4L435.3 612.1L435.7 613.8L436.2 615.5L436.6 617.1L437.0 618.8L437.4 620.5L437.8 622.2L438.2 623.8L438.6 625.5L439.0 627.1L439.5 628.7L439.9 630.3L440.3 631.9L440.7 633.5L441.1 635.1L441.5 636.7L441.9 638.2L442.3 639.7L442.8 641.2L443.2 642.7L443.6 644.2L444.0 645.7L444.4 647.1L445.0 649.1L445.5 650.9L446.0 652.8L446.6 654.6L447.1 656.3L447.7 658.1L448.2 659.8L448.8 661.4L449.3 663.0L449.9 664.6L450.4 666.1L451.0 667.6L451.5 669.0L452.2 670.8L452.9 672.4L453.6 674.0L454.3 675.5L455.0 676.9L455.8 678.5L456.6 680.0L457.5 681.3L458.4 682.8L459.4 684.1L460.3 685.3L461.4 686.4L462.7 687.6L463.9 688.5L465.3 689.3L466.7 690.0L468.2 690.5L469.7 690.8L471.2 690.9L472.7 690.9L474.2 690.7L475.7 690.4L477.2 690.0L478.8 689.5L480.3 688.8L481.6 688.2L483.0 687.4L484.4 686.6L485.8 685.6L487.0 684.8L488.2 683.8L489.5 682.8L490.7 681.8L491.9 680.7L493.2 679.6L494.3 678.5L495.4 677.5L496.5 676.4L497.6 675.3L498.7 674.1L499.8 673.0L500.9 671.8L502.0 670.6L503.1 669.4L504.2 668.2L505.3 667.0L506.4 665.8L507.5 664.5L508.6 663.3L509.7 662.1L510.8 660.8L511.9 659.6L513.0 658.3L514.1 657.1L515.2 655.9L516.3 654.6L517.4 653.4L518.5 652.2L519.6 651.0L520.7 649.8L521.8 648.6L522.9 647.4L524.0 646.2L525.1 645.0L526.2 643.9L527.3 642.7L528.4 641.6L529.5 640.5L530.6 639.4L531.7 638.3L532.8 637.3L533.9 636.2L535.0 635.2L536.2 634.1L537.4 633.0L538.7 631.9L539.9 630.8L541.1 629.8L542.4 628.9L543.6 627.9L544.9 627.0L546.1 626.1L547.3 625.3L548.7 624.3L550.1 623.5L551.4 622.6L552.8 621.8L554.2 621.0L555.6 620.3L556.9 619.6L558.3 618.9L559.7 618.2L561.1 617.6L562.6 616.9L564.1 616.3L565.6 615.7L567.1 615.1L568.6 614.6L570.1 614.1L571.7 613.6L573.2 613.2L574.7 612.7L576.2 612.3L577.7 612.0L579.2 611.6L580.7 611.3L582.2 610.9L583.7 610.7L585.3 610.4L586.8 610.1L588.3 609.9L589.8 609.6L591.3 609.4L592.8 609.2L594.3 609.0L595.8 608.8L597.3 608.7L598.9 608.5L600.4 608.3L601.9 608.2L603.4 608.0L604.9 607.9L606.4 607.8L607.9 607.6L609.4 607.5L611.0 607.4L612.5 607.2L614.0 607.1L615.5 607.0L617.0 606.8L618.5 606.7L620.0 606.6L621.5 606.5L623.0 606.3L624.6 606.2L626.1 606.1L627.6 606.0L629.1 605.9L630.6 605.8L632.1 605.6L633.6 605.5L635.1 605.4L636.6 605.3L638.2 605.2L639.7 605.1L641.2 605.0L642.7 605.0L644.2 604.9L645.7 604.8L647.2 604.7L648.7 604.7L650.3 604.6L651.8 604.5L653.3 604.5L654.8 604.4L656.3 604.4L657.8 604.3L659.3 604.3L660.8 604.3L662.3 604.3L663.9 604.2L665.4 604.2L666.9 604.2L668.4 604.2L669.9 604.2L671.4 604.3L672.9 604.3L674.4 604.3L676.0 604.4L677.5 604.4L677.6 604.4" fill="none" stroke="#fa0000" stroke-width="2.1" stroke-linejoin="round"/>
<path d="M402.9 604.2L403.0 602.7L403.2 601.2L403.4 598.2L403.7 595.3L404.0 592.5L404.3 589.8L404.5 587.1L404.8 584.5L405.1 581.9L405.4 579.5L405.6 577.1L405.9 574.8L406.2 572.5L406.5 570.3L406.7 568.2L407.0 566.2L407.3 564.2L407.6 562.3L407.8 560.5L408.1 558.8L408.4 557.1L408.7 555.4L408.9 553.9L409.2 552.4L409.6 550.3L410.0 548.4L410.5 546.6L410.9 545.0L411.3 543.5L411.8 541.8L412.4 540.3L413.1 538.8L413.9 537.6L415.1 536.6L416.6 536.7L417.9 537.8L418.8 539.0L419.7 540.4L420.5 542.0L421.2 543.5L421.9 545.1L422.6 546.8L423.1 548.3L423.7 549.8L424.2 551.4L424.7 553.0L425.3 554.7L425.8 556.5L426.4 558.3L426.9 560.2L427.5 562.1L427.9 563.5L428.3 565.0L428.7 566.6L429.1 568.1L429.6 569.6L430.0 571.2L430.4 572.8L430.8 574.4L431.2 576.1L431.6 577.7L432.0 579.4L432.4 581.1L432.9 582.7L433.3 584.4L433.7 586.2L434.1 587.9L434.5 589.6L434.9 591.3L435.3 593.1L435.7 594.8L436.2 596.6L436.6 598.3L437.0 600.1L437.4 601.8L437.8 603.6L438.2 605.3L438.6 607.1L439.0 608.8L439.5 610.5L439.9 612.3L440.3 614.0L440.7 615.7L441.1 617.4L441.5 619.1L441.9 620.8L442.3 622.5L442.8 624.2L443.2 625.9L443.6 627.5L444.0 629.2L444.4 630.8L444.8 632.4L445.2 634.0L445.6 635.6L446.0 637.2L446.5 638.7L446.9 640.3L447.3 641.8L447.7 643.3L448.1 644.7L448.5 646.2L449.1 648.1L449.6 650.0L450.2 651.8L450.7 653.6L451.3 655.3L451.8 657.0L452.4 658.7L452.9 660.3L453.5 661.8L454.0 663.3L454.6 664.7L455.3 666.4L455.9 668.1L456.6 669.6L457.3 671.0L458.0 672.4L458.8 673.9L459.7 675.4L460.5 676.7L461.4 678.1L462.4 679.3L463.5 680.6L464.6 681.8L465.8 682.9L467.1 683.8L468.4 684.7L469.8 685.4L471.3 685.9L472.8 686.3L474.4 686.6L475.9 686.7L477.4 686.7L478.9 686.6L480.4 686.3L481.9 685.9L483.4 685.4L484.9 684.8L486.3 684.2L487.7 683.5L489.1 682.7L490.4 681.8L491.8 680.9L493.0 680.0L494.3 679.1L495.5 678.1L496.8 677.1L498.0 676.1L499.2 675.0L500.5 673.9L501.7 672.8L502.9 671.6L504.0 670.6L505.1 669.5L506.2 668.5L507.3 667.4L508.4 666.3L509.5 665.2L510.6 664.2L511.7 663.1L512.8 662.0L513.9 660.9L515.0 659.8L516.1 658.7L517.2 657.6L518.3 656.5L519.4 655.4L520.5 654.3L521.6 653.2L522.7 652.2L523.8 651.1L524.9 650.0L526.0 649.0L527.1 647.9L528.2 646.9L529.3 645.8L530.4 644.8L531.7 643.7L532.9 642.5L534.1 641.4L535.4 640.3L536.6 639.3L537.8 638.2L539.1 637.2L540.3 636.2L541.6 635.2L542.8 634.3L544.0 633.3L545.3 632.4L546.5 631.5L547.7 630.7L549.1 629.8L550.5 628.9L551.9 628.0L553.2 627.1L554.6 626.3L556.0 625.5L557.4 624.7L558.7 624.0L560.1 623.2L561.5 622.5L562.9 621.9L564.2 621.2L565.6 620.6L567.0 619.9L568.5 619.3L570.0 618.7L571.5 618.1L573.0 617.5L574.5 616.9L576.0 616.4L577.6 615.9L579.1 615.4L580.6 614.9L582.1 614.4L583.6 614.0L585.1 613.6L586.6 613.2L588.1 612.8L589.7 612.4L591.2 612.0L592.7 611.7L594.2 611.4L595.7 611.1L597.2 610.8L598.7 610.5L600.2 610.2L601.7 609.9L603.3 609.7L604.8 609.4L606.3 609.2L607.8 609.0L609.3 608.7L610.8 608.5L612.3 608.3L613.8 608.1L615.3 607.9L616.9 607.7L618.4 607.6L619.9 607.4L621.4 607.2L622.9 607.1L624.4 606.9L625.9 606.8L627.4 606.6L629.0 606.5L630.5 606.3L632.0 606.2L633.5 606.1L635.0 606.0L636.5 605.9L638.0 605.8L639.5 605.7L641.0 605.6L642.6 605.5L644.1 605.4L645.6 605.3L647.1 605.2L648.6 605.2L650.1 605.1L651.6 605.0L653.1 605.0L654.7 604.9L656.2 604.9L657.7 604.8L659.2 604.8L660.7 604.7L662.2 604.7L663.7 604.7L665.2 604.6L666.7 604.6L668.3 604.6L669.8 604.6L671.3 604.5L672.8 604.5L674.3 604.5L675.8 604.5L677.3 604.5L677.6 604.5" fill="none" stroke="#0000fa" stroke-width="2.3" stroke-dasharray="3.6 3.8" stroke-linejoin="round"/>
<path d="M402.9 604.2L403.2 601.3L403.4 598.4L403.7 595.6L404.0 592.9L404.3 590.3L404.5 587.7L404.8 585.2L405.1 582.8L405.4 580.4L405.6 578.1L405.9 575.9L406.2 573.7L406.5 571.6L406.7 569.6L407.0 567.6L407.3 565.7L407.6 563.8L407.8 562.0L408.1 560.3L408.4 558.6L408.7 557.0L408.9 555.4L409.2 553.9L409.6 551.7L410.0 549.7L410.5 547.8L410.9 546.0L411.3 544.3L411.7 542.7L412.1 541.3L412.7 539.5L413.2 538.0L413.9 536.2L414.6 534.8L415.4 533.4L416.5 532.2L417.9 531.4L419.4 531.6L420.8 532.6L421.9 533.8L422.8 535.2L423.7 536.7L424.3 538.0L425.0 539.5L425.7 541.1L426.4 542.9L426.9 544.3L427.5 545.8L428.0 547.4L428.6 549.1L429.1 550.8L429.7 552.5L430.2 554.3L430.8 556.2L431.3 558.0L431.9 560.0L432.3 561.4L432.7 562.9L433.1 564.4L433.5 565.9L434.0 567.4L434.4 568.9L434.8 570.4L435.2 572.0L435.6 573.5L436.0 575.0L436.4 576.6L436.8 578.1L437.3 579.7L437.7 581.2L438.1 582.8L438.5 584.3L438.9 585.8L439.3 587.3L439.7 588.9L440.1 590.4L440.6 591.9L441.0 593.4L441.4 594.9L441.8 596.4L442.2 597.8L442.6 599.3L443.0 600.8L443.4 602.2L443.9 603.7L444.4 605.6L445.0 607.5L445.5 609.4L446.0 611.3L446.6 613.1L447.1 614.9L447.7 616.7L448.2 618.5L448.8 620.3L449.3 622.0L449.9 623.7L450.4 625.4L451.0 627.1L451.5 628.7L452.1 630.4L452.6 631.9L453.2 633.5L453.7 635.0L454.3 636.5L454.8 638.0L455.4 639.4L455.9 640.9L456.6 642.6L457.3 644.2L458.0 645.9L458.7 647.4L459.4 648.9L460.1 650.4L460.8 651.9L461.4 653.2L462.1 654.6L463.0 656.1L463.8 657.6L464.6 659.0L465.4 660.4L466.3 661.7L467.2 663.1L468.2 664.4L469.1 665.7L470.1 666.9L471.2 668.1L472.3 669.3L473.4 670.3L474.6 671.4L475.9 672.3L477.2 673.2L478.6 674.0L480.0 674.6L481.5 675.2L483.0 675.6L484.5 675.8L486.0 675.9L487.5 675.9L489.1 675.7L490.6 675.5L492.1 675.1L493.6 674.6L495.1 674.0L496.5 673.4L497.9 672.8L499.2 672.0L500.6 671.2L502.0 670.4L503.4 669.5L504.6 668.6L505.8 667.7L507.1 666.8L508.3 665.8L509.5 664.9L510.8 663.9L512.0 662.9L513.2 661.8L514.5 660.8L515.7 659.7L517.0 658.6L518.2 657.5L519.4 656.4L520.7 655.3L521.9 654.2L523.1 653.0L524.4 651.9L525.6 650.8L526.9 649.7L528.1 648.5L529.3 647.4L530.6 646.3L531.8 645.2L533.0 644.1L534.3 643.1L535.5 642.0L536.7 640.9L538.0 639.9L539.2 638.9L540.5 637.9L541.7 637.0L542.9 636.0L544.2 635.1L545.4 634.2L546.6 633.4L548.0 632.4L549.4 631.5L550.8 630.6L552.1 629.8L553.5 628.9L554.9 628.1L556.3 627.3L557.6 626.6L559.0 625.8L560.4 625.1L561.8 624.4L563.1 623.8L564.5 623.1L565.9 622.5L567.3 621.9L568.8 621.2L570.3 620.6L571.8 620.0L573.3 619.4L574.8 618.9L576.3 618.3L577.8 617.8L579.3 617.3L580.9 616.8L582.4 616.4L583.9 615.9L585.4 615.5L586.9 615.1L588.4 614.7L589.9 614.3L591.4 613.9L593.0 613.6L594.5 613.2L596.0 612.9L597.5 612.6L599.0 612.2L600.5 611.9L602.0 611.6L603.5 611.4L605.0 611.1L606.6 610.8L608.1 610.5L609.6 610.3L611.1 610.0L612.6 609.8L614.1 609.5L615.6 609.3L617.1 609.1L618.6 608.8L620.2 608.6L621.7 608.4L623.2 608.2L624.7 608.0L626.2 607.8L627.7 607.6L629.2 607.4L630.7 607.2L632.3 607.1L633.8 606.9L635.3 606.7L636.8 606.6L638.3 606.4L639.8 606.3L641.3 606.1L642.8 606.0L644.3 605.8L645.9 605.7L647.4 605.6L648.9 605.5L650.4 605.4L651.9 605.3L653.4 605.2L654.9 605.1L656.4 605.0L657.9 605.0L659.5 604.9L661.0 604.8L662.5 604.8L664.0 604.7L665.5 604.7L667.0 604.7L668.5 604.6L670.0 604.6L671.6 604.6L673.1 604.6L674.6 604.6L676.1 604.6L677.6 604.6" fill="none" stroke="#000000" stroke-width="2.4" stroke-dasharray="9 12" stroke-linejoin="round"/>
<rect x="397.5" y="523" width="285.9" height="176.4" fill="none" stroke="#a3a3a3" stroke-width="1"/>
<path d="M403.2 699.4v-3M403.2 523v3M415.7 699.4v-1.8M415.7 523v1.8M428.2 699.4v-1.8M428.2 523v1.8M440.7 699.4v-1.8M440.7 523v1.8M453.2 699.4v-3M453.2 523v3M465.8 699.4v-1.8M465.8 523v1.8M478.3 699.4v-1.8M478.3 523v1.8M490.8 699.4v-1.8M490.8 523v1.8M503.3 699.4v-3M503.3 523v3M515.8 699.4v-1.8M515.8 523v1.8M528.3 699.4v-1.8M528.3 523v1.8M540.8 699.4v-1.8M540.8 523v1.8M553.3 699.4v-3M553.3 523v3M565.8 699.4v-1.8M565.8 523v1.8M578.3 699.4v-1.8M578.3 523v1.8M590.9 699.4v-1.8M590.9 523v1.8M603.4 699.4v-3M603.4 523v3M615.9 699.4v-1.8M615.9 523v1.8M628.4 699.4v-1.8M628.4 523v1.8M640.9 699.4v-1.8M640.9 523v1.8M653.4 699.4v-3M653.4 523v3M665.9 699.4v-1.8M665.9 523v1.8M678.4 699.4v-1.8M678.4 523v1.8M397.5 694h1.8M683.4 694h-1.8M397.5 687.1h1.8M683.4 687.1h-1.8M397.5 680.2h1.8M683.4 680.2h-1.8M397.5 673.3h3M683.4 673.3h-3M397.5 666.4h1.8M683.4 666.4h-1.8M397.5 659.5h1.8M683.4 659.5h-1.8M397.5 652.6h1.8M683.4 652.6h-1.8M397.5 645.7h1.8M683.4 645.7h-1.8M397.5 638.8h3M683.4 638.8h-3M397.5 631.8h1.8M683.4 631.8h-1.8M397.5 624.9h1.8M683.4 624.9h-1.8M397.5 618h1.8M683.4 618h-1.8M397.5 611.1h1.8M683.4 611.1h-1.8M397.5 604.2h3M683.4 604.2h-3M397.5 597.3h1.8M683.4 597.3h-1.8M397.5 590.4h1.8M683.4 590.4h-1.8M397.5 583.5h1.8M683.4 583.5h-1.8M397.5 576.6h1.8M683.4 576.6h-1.8M397.5 569.7h3M683.4 569.7h-3M397.5 562.7h1.8M683.4 562.7h-1.8M397.5 555.8h1.8M683.4 555.8h-1.8M397.5 548.9h1.8M683.4 548.9h-1.8M397.5 542h1.8M683.4 542h-1.8M397.5 535.1h3M683.4 535.1h-3M397.5 528.2h1.8M683.4 528.2h-1.8" stroke="#a3a3a3" stroke-width="1" fill="none"/>
<text x="403.2" y="711.7" class="tl" style="font-size:11px" text-anchor="middle">0</text>
<text x="453.2" y="711.7" class="tl" style="font-size:11px" text-anchor="middle">2</text>
<text x="503.3" y="711.7" class="tl" style="font-size:11px" text-anchor="middle">4</text>
<text x="553.3" y="711.7" class="tl" style="font-size:11px" text-anchor="middle">6</text>
<text x="603.4" y="711.7" class="tl" style="font-size:11px" text-anchor="middle">8</text>
<text x="653.4" y="711.7" class="tl" style="font-size:11px" text-anchor="middle">10</text>
<text x="394.5" y="677.2" class="tl" style="font-size:11px" text-anchor="end">−1.0</text>
<text x="394.5" y="642.7" class="tl" style="font-size:11px" text-anchor="end">−0.5</text>
<text x="394.5" y="608.1" class="tl" style="font-size:11px" text-anchor="end">0.0</text>
<text x="394.5" y="573.6" class="tl" style="font-size:11px" text-anchor="end">0.5</text>
<text x="394.5" y="539" class="tl" style="font-size:11px" text-anchor="end">1.0</text>
<text x="674" y="555.3" class="pl" style="font-size:18.4px" text-anchor="end">(f)</text>
<line x1="541.2" y1="542.7" x2="577.3" y2="542.7" stroke="#fa0000" stroke-width="2.1"/>
<text x="583.2" y="546.4" class="tl" style="font-size:10.4px">t=0.1</text>
<line x1="541.2" y1="563.4" x2="577.3" y2="563.4" stroke="#0000fa" stroke-width="2.3" stroke-dasharray="3.6 3.8"/>
<text x="583.2" y="567.1" class="tl" style="font-size:10.4px">t=0.4</text>
<line x1="541.2" y1="583.1" x2="577.3" y2="583.1" stroke="#000000" stroke-width="2.4" stroke-dasharray="9 12"/>
<text x="583.2" y="586.8" class="tl" style="font-size:10.4px">t=0.7</text>
<text x="540.9" y="730.4" class="at" style="font-size:10.5px" text-anchor="middle">distance <tspan class="ar">→</tspan> X</text>
<text transform="translate(364.7 615.9) rotate(-90)" class="at" style="font-size:10.5px;" text-anchor="middle">equilibrated stress 1 <tspan class="ar">→</tspan> τ1</text>
<line x1="185.3" y1="965.3" x2="540.6" y2="965.3" stroke="#dadada" stroke-width="1"/>
<path d="M191.8 965.1L192.1 962.8L192.5 960.5L192.8 958.1L193.2 955.8L193.5 953.4L193.9 951.1L194.2 948.7L194.5 946.4L194.9 944.0L195.2 941.6L195.6 939.3L195.9 936.9L196.3 934.6L196.6 932.2L196.9 929.9L197.3 927.5L197.6 925.2L198.0 922.8L198.3 920.5L198.7 918.1L199.0 915.8L199.3 913.5L199.7 911.2L200.0 908.9L200.4 906.6L200.7 904.3L201.1 902.1L201.4 899.8L201.7 897.6L202.1 895.3L202.4 893.1L202.8 890.9L203.1 888.7L203.5 886.5L203.8 884.4L204.1 882.2L204.5 880.1L204.8 878.0L205.2 875.9L205.5 873.8L205.9 871.8L206.2 869.7L206.5 867.7L206.9 865.7L207.2 863.8L207.6 861.8L207.9 859.9L208.3 858.0L208.6 856.1L208.9 854.2L209.3 852.4L209.6 850.5L210.0 848.7L210.3 847.0L210.7 845.2L211.0 843.5L211.3 841.8L211.7 840.1L212.0 838.5L212.4 836.9L212.7 835.3L213.1 833.7L213.4 832.2L213.8 830.7L214.1 829.2L214.6 827.1L215.1 825.0L215.6 823.0L216.2 821.0L216.7 819.1L217.2 817.3L217.7 815.5L218.2 813.7L218.7 812.1L219.2 810.4L219.8 808.9L220.3 807.4L220.8 805.9L221.5 804.0L222.2 802.3L222.8 800.6L223.5 799.0L224.2 797.4L224.9 796.0L225.6 794.6L226.4 793.1L227.3 791.6L228.2 790.2L229.0 788.9L230.0 787.6L231.1 786.3L232.1 785.2L233.3 784.1L234.5 783.1L235.9 782.1L237.2 781.4L238.8 780.7L240.3 780.3L241.9 780.1L243.4 780.1L245.0 780.2L246.5 780.6L248.0 781.1L249.4 781.7L250.8 782.5L252.2 783.4L253.5 784.4L254.7 785.3L255.9 786.4L257.1 787.5L258.3 788.7L259.4 789.8L260.4 791.0L261.4 792.2L262.5 793.4L263.5 794.7L264.5 796.1L265.5 797.4L266.6 798.9L267.6 800.3L268.5 801.6L269.3 802.8L270.2 804.1L271.0 805.4L271.9 806.7L272.7 808.1L273.6 809.5L274.5 810.8L275.3 812.2L276.2 813.6L277.0 815.0L277.9 816.5L278.7 817.9L279.6 819.4L280.5 820.8L281.3 822.3L282.2 823.7L283.0 825.2L283.9 826.7L284.7 828.2L285.6 829.7L286.5 831.2L287.3 832.7L288.2 834.2L289.0 835.8L289.9 837.3L290.7 838.8L291.6 840.4L292.5 841.9L293.3 843.4L294.2 845.0L295.0 846.5L295.9 848.1L296.7 849.6L297.6 851.2L298.5 852.7L299.3 854.3L300.2 855.8L301.0 857.4L301.9 858.9L302.8 860.5L303.6 862.0L304.5 863.6L305.3 865.1L306.2 866.7L307.0 868.2L307.9 869.8L308.8 871.3L309.6 872.8L310.5 874.3L311.3 875.9L312.2 877.4L313.0 878.9L313.9 880.4L314.8 881.9L315.6 883.4L316.5 884.9L317.3 886.3L318.2 887.8L319.0 889.3L319.9 890.7L320.8 892.2L321.6 893.6L322.5 895.0L323.3 896.4L324.2 897.8L325.0 899.2L325.9 900.5L326.8 901.9L327.6 903.2L328.5 904.4L329.3 905.7L330.4 907.2L331.4 908.6L332.4 909.9L333.4 911.2L334.5 912.5L335.5 913.7L336.5 914.9L337.6 916.1L338.6 917.2L339.6 918.4L340.6 919.5L341.7 920.6L342.7 921.7L343.7 922.8L344.9 924.0L346.1 925.3L347.3 926.6L348.5 927.8L349.7 929.1L350.9 930.3L352.1 931.5L353.3 932.7L354.5 933.9L355.7 935.1L356.9 936.2L358.1 937.4L359.3 938.5L360.5 939.6L361.7 940.7L362.9 941.7L364.1 942.7L365.3 943.7L366.5 944.7L367.7 945.7L368.9 946.6L370.3 947.6L371.7 948.6L373.1 949.5L374.4 950.5L375.8 951.3L377.2 952.2L378.5 953.0L379.9 953.8L381.3 954.6L382.7 955.4L384.0 956.1L385.4 956.8L386.8 957.4L388.2 958.1L389.5 958.7L391.1 959.4L392.6 960.0L394.2 960.6L395.7 961.2L397.2 961.7L398.8 962.2L400.3 962.7L401.9 963.2L403.4 963.6L405.0 964.0L406.5 964.4L408.0 964.8L409.6 965.1L411.1 965.4L412.7 965.7L414.2 966.0L415.8 966.2L417.3 966.5L418.8 966.7L420.4 966.9L421.9 967.1L423.5 967.2L425.0 967.4L426.6 967.5L428.1 967.6L429.7 967.7L431.2 967.8L432.7 967.9L434.3 968.0L435.8 968.1L437.4 968.1L438.9 968.2L440.5 968.2L442.0 968.2L443.5 968.3L445.1 968.3L446.6 968.3L448.2 968.3L449.7 968.3L451.3 968.3L452.8 968.3L454.3 968.3L455.9 968.3L457.4 968.3L459.0 968.3L460.5 968.2L462.1 968.2L463.6 968.2L465.1 968.2L466.7 968.2L468.2 968.1L469.8 968.1L471.3 968.1L472.9 968.0L474.4 968.0L476.0 968.0L477.5 967.9L479.0 967.9L480.6 967.8L482.1 967.8L483.7 967.7L485.2 967.7L486.8 967.7L488.3 967.6L489.8 967.6L491.4 967.5L492.9 967.5L494.5 967.4L496.0 967.4L497.6 967.3L499.1 967.3L500.6 967.2L502.2 967.2L503.7 967.1L505.3 967.1L506.8 967.0L508.4 966.9L509.9 966.9L511.4 966.8L513.0 966.8L514.5 966.7L516.1 966.7L517.6 966.7L519.2 966.6L520.7 966.6L522.3 966.5L523.8 966.5L525.3 966.4L526.9 966.4L528.4 966.3L530.0 966.3L531.5 966.3L533.1 966.2L534.6 966.2" fill="none" stroke="#fa0000" stroke-width="2.4" stroke-linejoin="round"/>
<path d="M191.8 965.1L192.3 963.1L192.8 961.1L193.3 959.1L193.9 957.1L194.4 955.1L194.9 953.1L195.4 951.1L195.9 949.1L196.4 947.1L196.9 945.1L197.5 943.1L198.0 941.1L198.5 939.1L199.0 937.2L199.5 935.2L200.0 933.2L200.5 931.3L201.1 929.3L201.6 927.4L202.1 925.4L202.6 923.5L203.1 921.6L203.6 919.6L204.1 917.7L204.7 915.8L205.2 913.9L205.7 912.0L206.2 910.2L206.7 908.3L207.2 906.4L207.7 904.6L208.3 902.7L208.8 900.9L209.3 899.1L209.8 897.3L210.3 895.5L210.8 893.7L211.3 891.9L211.9 890.2L212.4 888.4L212.9 886.7L213.4 885.0L213.9 883.3L214.4 881.6L215.0 879.9L215.5 878.2L216.0 876.6L216.5 875.0L217.0 873.3L217.5 871.7L218.0 870.2L218.6 868.6L219.1 867.0L219.6 865.5L220.1 864.0L220.6 862.5L221.1 861.0L221.6 859.6L222.2 858.1L222.7 856.7L223.4 854.8L224.0 853.0L224.7 851.2L225.4 849.4L226.1 847.7L226.8 846.0L227.5 844.4L228.2 842.8L228.8 841.2L229.5 839.7L230.2 838.2L230.9 836.8L231.6 835.4L232.3 834.0L233.1 832.4L234.0 830.9L234.8 829.4L235.7 828.0L236.6 826.7L237.4 825.4L238.4 824.0L239.5 822.7L240.5 821.5L241.5 820.4L242.7 819.2L243.9 818.1L245.1 817.2L246.5 816.3L247.9 815.5L249.2 814.9L250.8 814.4L252.3 814.0L253.9 813.8L255.4 813.8L257.0 813.9L258.5 814.2L260.1 814.7L261.6 815.2L263.0 815.8L264.3 816.6L265.7 817.4L267.1 818.3L268.5 819.2L269.7 820.2L270.9 821.1L272.1 822.2L273.3 823.3L274.5 824.4L275.7 825.6L276.9 826.8L278.1 828.1L279.1 829.2L280.1 830.3L281.1 831.5L282.2 832.7L283.2 833.9L284.2 835.2L285.3 836.4L286.3 837.7L287.3 839.0L288.3 840.3L289.4 841.7L290.4 843.0L291.4 844.4L292.5 845.8L293.5 847.2L294.5 848.6L295.5 850.0L296.6 851.5L297.6 853.0L298.6 854.4L299.7 855.9L300.5 857.1L301.4 858.4L302.2 859.6L303.1 860.9L304.0 862.1L304.8 863.4L305.7 864.6L306.5 865.9L307.4 867.2L308.2 868.4L309.1 869.7L310.0 871.0L310.8 872.2L311.7 873.5L312.5 874.8L313.4 876.0L314.2 877.3L315.1 878.6L316.0 879.8L316.8 881.1L317.7 882.3L318.5 883.6L319.4 884.8L320.4 886.3L321.4 887.7L322.5 889.2L323.5 890.6L324.5 892.1L325.6 893.5L326.6 894.9L327.6 896.3L328.6 897.7L329.7 899.0L330.7 900.4L331.7 901.7L332.8 903.1L333.8 904.4L334.8 905.7L335.8 906.9L336.9 908.2L337.9 909.4L338.9 910.7L340.0 911.9L341.0 913.1L342.0 914.2L343.1 915.4L344.1 916.5L345.1 917.6L346.1 918.7L347.3 920.0L348.5 921.2L349.7 922.4L350.9 923.6L352.1 924.7L353.3 925.9L354.5 927.0L355.7 928.1L356.9 929.1L358.1 930.2L359.3 931.2L360.5 932.2L361.7 933.2L362.9 934.2L364.1 935.1L365.3 936.0L366.5 937.0L367.9 938.0L369.3 939.0L370.7 940.0L372.0 940.9L373.4 941.9L374.8 942.8L376.1 943.7L377.5 944.5L378.9 945.4L380.3 946.2L381.6 947.0L383.0 947.8L384.4 948.6L385.8 949.3L387.1 950.1L388.5 950.8L389.9 951.5L391.2 952.2L392.6 952.8L394.0 953.5L395.4 954.1L396.9 954.8L398.4 955.4L400.0 956.0L401.5 956.7L403.1 957.3L404.6 957.8L406.2 958.4L407.7 958.9L409.2 959.4L410.8 959.9L412.3 960.4L413.9 960.8L415.4 961.3L417.0 961.7L418.5 962.1L420.0 962.5L421.6 962.8L423.1 963.2L424.7 963.5L426.2 963.8L427.8 964.1L429.3 964.4L430.9 964.7L432.4 964.9L433.9 965.2L435.5 965.4L437.0 965.6L438.6 965.8L440.1 966.0L441.7 966.2L443.2 966.3L444.7 966.5L446.3 966.6L447.8 966.8L449.4 966.9L450.9 967.0L452.5 967.1L454.0 967.2L455.5 967.2L457.1 967.3L458.6 967.4L460.2 967.4L461.7 967.4L463.3 967.5L464.8 967.5L466.3 967.5L467.9 967.5L469.4 967.5L471.0 967.5L472.5 967.5L474.1 967.5L475.6 967.5L477.2 967.5L478.7 967.4L480.2 967.4L481.8 967.4L483.3 967.3L484.9 967.3L486.4 967.2L488.0 967.2L489.5 967.1L491.0 967.1L492.6 967.0L494.1 967.0L495.7 966.9L497.2 966.9L498.8 966.8L500.3 966.8L501.8 966.7L503.4 966.6L504.9 966.6L506.5 966.5L508.0 966.5L509.6 966.4L511.1 966.4L512.6 966.4L514.2 966.3L515.7 966.3L517.3 966.2L518.8 966.2L520.4 966.2L521.9 966.2L523.5 966.2L525.0 966.2L526.5 966.1L528.1 966.2L529.6 966.2L531.2 966.2L532.7 966.2L534.3 966.2L534.6 966.2" fill="none" stroke="#0000fa" stroke-width="2.6" stroke-dasharray="4.1 4.8" stroke-linejoin="round"/>
<path d="M191.8 965.7L192.5 967.5L193.2 969.1L193.9 970.5L194.7 972.1L195.6 973.4L196.6 974.7L197.8 975.7L199.2 976.5L200.7 976.6L202.3 976.2L203.6 975.4L204.8 974.3L205.9 973.1L206.9 971.8L207.7 970.5L208.6 969.1L209.5 967.6L210.3 966.0L211.0 964.6L211.7 963.2L212.4 961.7L213.1 960.2L213.8 958.6L214.4 957.0L215.1 955.3L215.8 953.6L216.5 951.9L217.2 950.1L217.9 948.3L218.6 946.5L219.2 944.6L219.9 942.8L220.4 941.3L221.0 939.9L221.5 938.5L222.0 937.0L222.5 935.6L223.0 934.1L223.5 932.6L224.0 931.2L224.6 929.7L225.1 928.2L225.6 926.7L226.1 925.3L226.6 923.8L227.1 922.3L227.6 920.8L228.2 919.4L228.7 917.9L229.2 916.5L229.7 915.0L230.2 913.6L230.7 912.2L231.2 910.7L231.9 908.9L232.6 907.0L233.3 905.2L234.0 903.4L234.7 901.7L235.4 900.0L236.0 898.3L236.7 896.6L237.4 895.0L238.1 893.4L238.8 891.9L239.5 890.4L240.2 888.9L240.8 887.4L241.5 886.0L242.2 884.6L242.9 883.3L243.8 881.6L244.6 880.1L245.5 878.5L246.3 877.0L247.2 875.6L248.0 874.2L248.9 872.8L249.8 871.5L250.6 870.3L251.6 868.9L252.7 867.5L253.7 866.2L254.7 864.9L255.8 863.8L256.8 862.7L258.0 861.5L259.2 860.3L260.4 859.3L261.6 858.3L263.0 857.3L264.3 856.4L265.7 855.7L267.1 855.0L268.6 854.3L270.2 853.8L271.7 853.4L273.3 853.2L274.8 853.0L276.3 853.0L277.9 853.0L279.4 853.2L281.0 853.5L282.5 853.9L284.1 854.4L285.6 855.0L287.0 855.7L288.3 856.3L289.7 857.1L291.1 857.9L292.5 858.8L293.8 859.7L295.2 860.7L296.4 861.6L297.6 862.5L298.8 863.5L300.0 864.5L301.2 865.6L302.4 866.7L303.6 867.8L304.8 868.9L306.0 870.1L307.2 871.3L308.4 872.5L309.6 873.7L310.8 874.9L312.0 876.2L313.2 877.5L314.2 878.6L315.3 879.7L316.3 880.8L317.3 881.9L318.4 883.0L319.4 884.2L320.4 885.3L321.4 886.4L322.5 887.5L323.5 888.7L324.5 889.8L325.6 890.9L326.6 892.0L327.6 893.2L328.6 894.3L329.7 895.4L330.7 896.5L331.7 897.6L332.8 898.7L333.8 899.8L334.8 900.9L335.8 902.0L336.9 903.1L338.1 904.4L339.3 905.7L340.5 906.9L341.7 908.2L342.9 909.4L344.1 910.6L345.3 911.8L346.5 913.0L347.7 914.2L348.9 915.4L350.1 916.6L351.3 917.8L352.5 918.9L353.7 920.1L354.9 921.2L356.1 922.3L357.3 923.4L358.5 924.5L359.7 925.5L360.9 926.6L362.1 927.6L363.3 928.6L364.5 929.6L365.7 930.6L366.9 931.6L368.1 932.5L369.3 933.5L370.5 934.4L371.9 935.4L373.2 936.4L374.6 937.4L376.0 938.4L377.3 939.3L378.7 940.2L380.1 941.1L381.5 942.0L382.8 942.9L384.2 943.7L385.6 944.5L387.0 945.3L388.3 946.1L389.7 946.9L391.1 947.6L392.4 948.4L393.8 949.1L395.2 949.8L396.6 950.5L397.9 951.1L399.3 951.8L400.7 952.4L402.0 953.0L403.6 953.7L405.1 954.3L406.7 954.9L408.2 955.5L409.8 956.1L411.3 956.7L412.8 957.2L414.4 957.8L415.9 958.3L417.5 958.8L419.0 959.3L420.6 959.7L422.1 960.1L423.6 960.6L425.2 961.0L426.7 961.4L428.3 961.7L429.8 962.1L431.4 962.4L432.9 962.8L434.5 963.1L436.0 963.4L437.5 963.7L439.1 963.9L440.6 964.2L442.2 964.4L443.7 964.7L445.3 964.9L446.8 965.1L448.3 965.3L449.9 965.5L451.4 965.6L453.0 965.8L454.5 965.9L456.1 966.1L457.6 966.2L459.1 966.3L460.7 966.4L462.2 966.5L463.8 966.6L465.3 966.7L466.9 966.8L468.4 966.8L469.9 966.9L471.5 966.9L473.0 967.0L474.6 967.0L476.1 967.0L477.7 967.1L479.2 967.1L480.8 967.1L482.3 967.1L483.8 967.1L485.4 967.1L486.9 967.1L488.5 967.1L490.0 967.0L491.6 967.0L493.1 967.0L494.6 967.0L496.2 966.9L497.7 966.9L499.3 966.9L500.8 966.8L502.4 966.8L503.9 966.8L505.4 966.7L507.0 966.7L508.5 966.6L510.1 966.6L511.6 966.6L513.2 966.5L514.7 966.5L516.3 966.5L517.8 966.4L519.3 966.4L520.9 966.4L522.4 966.3L524.0 966.3L525.5 966.3L527.1 966.3L528.6 966.2L530.1 966.2L531.7 966.2L533.2 966.2L534.6 966.2" fill="none" stroke="#000000" stroke-width="2.7" stroke-dasharray="10.6 14.9" stroke-linejoin="round"/>
<rect x="185.3" y="769.4" width="355.3" height="219.7" fill="none" stroke="#a3a3a3" stroke-width="1"/>
<path d="M192.5 989.1v-3.5M192.5 769.4v3.5M208 989.1v-2M208 769.4v2M223.4 989.1v-2M223.4 769.4v2M238.9 989.1v-2M238.9 769.4v2M254.4 989.1v-3.5M254.4 769.4v3.5M269.9 989.1v-2M269.9 769.4v2M285.4 989.1v-2M285.4 769.4v2M300.8 989.1v-2M300.8 769.4v2M316.3 989.1v-3.5M316.3 769.4v3.5M331.8 989.1v-2M331.8 769.4v2M347.2 989.1v-2M347.2 769.4v2M362.7 989.1v-2M362.7 769.4v2M378.2 989.1v-3.5M378.2 769.4v3.5M393.7 989.1v-2M393.7 769.4v2M409.1 989.1v-2M409.1 769.4v2M424.6 989.1v-2M424.6 769.4v2M440.1 989.1v-3.5M440.1 769.4v3.5M455.6 989.1v-2M455.6 769.4v2M471.1 989.1v-2M471.1 769.4v2M486.5 989.1v-2M486.5 769.4v2M502 989.1v-3.5M502 769.4v3.5M517.5 989.1v-2M517.5 769.4v2M533 989.1v-2M533 769.4v2M185.3 984.3h2M540.6 984.3h-2M185.3 974.8h2M540.6 974.8h-2M185.3 965.3h3.5M540.6 965.3h-3.5M185.3 955.8h2M540.6 955.8h-2M185.3 946.3h2M540.6 946.3h-2M185.3 936.8h2M540.6 936.8h-2M185.3 927.3h2M540.6 927.3h-2M185.3 917.8h3.5M540.6 917.8h-3.5M185.3 908.3h2M540.6 908.3h-2M185.3 898.8h2M540.6 898.8h-2M185.3 889.3h2M540.6 889.3h-2M185.3 879.8h2M540.6 879.8h-2M185.3 870.3h3.5M540.6 870.3h-3.5M185.3 860.8h2M540.6 860.8h-2M185.3 851.3h2M540.6 851.3h-2M185.3 841.8h2M540.6 841.8h-2M185.3 832.3h2M540.6 832.3h-2M185.3 822.8h3.5M540.6 822.8h-3.5M185.3 813.3h2M540.6 813.3h-2M185.3 803.8h2M540.6 803.8h-2M185.3 794.3h2M540.6 794.3h-2M185.3 784.8h2M540.6 784.8h-2M185.3 775.3h3.5M540.6 775.3h-3.5" stroke="#a3a3a3" stroke-width="1" fill="none"/>
<text x="192.5" y="1005.3" class="tl" style="font-size:12.3px" text-anchor="middle">0</text>
<text x="254.4" y="1005.3" class="tl" style="font-size:12.3px" text-anchor="middle">2</text>
<text x="316.3" y="1005.3" class="tl" style="font-size:12.3px" text-anchor="middle">4</text>
<text x="378.2" y="1005.3" class="tl" style="font-size:12.3px" text-anchor="middle">6</text>
<text x="440.1" y="1005.3" class="tl" style="font-size:12.3px" text-anchor="middle">8</text>
<text x="502" y="1005.3" class="tl" style="font-size:12.3px" text-anchor="middle">10</text>
<text x="181.5" y="969.7" class="tl" style="font-size:12.3px" text-anchor="end">0.0</text>
<text x="181.5" y="922.2" class="tl" style="font-size:12.3px" text-anchor="end">0.1</text>
<text x="181.5" y="874.7" class="tl" style="font-size:12.3px" text-anchor="end">0.2</text>
<text x="181.5" y="827.2" class="tl" style="font-size:12.3px" text-anchor="end">0.3</text>
<text x="181.5" y="779.7" class="tl" style="font-size:12.3px" text-anchor="end">0.4</text>
<text x="531" y="802" class="pl" style="font-size:21.5px" text-anchor="end">(g)</text>
<line x1="403.5" y1="838" x2="447.8" y2="838" stroke="#fa0000" stroke-width="2.4"/>
<text x="454.6" y="842.5" class="tl" style="font-size:12.5px">t=0.1</text>
<line x1="403.5" y1="862.6" x2="447.8" y2="862.6" stroke="#0000fa" stroke-width="2.6" stroke-dasharray="4.1 4.8"/>
<text x="454.6" y="867.1" class="tl" style="font-size:12.5px">t=0.4</text>
<line x1="403.5" y1="887.2" x2="447.8" y2="887.2" stroke="#000000" stroke-width="2.7" stroke-dasharray="10.6 14.9"/>
<text x="454.6" y="891.7" class="tl" style="font-size:12.5px">t=0.7</text>
<text x="362.8" y="1025.6" class="at" style="font-size:12.3px" text-anchor="middle">distance <tspan class="ar">→</tspan> X</text>
<text transform="translate(153.5 882.3) rotate(-90)" class="at" style="font-size:12.4px;" text-anchor="middle">equilibrated stress 2 <tspan class="ar">→</tspan> σ1</text>
</svg>
</body></html>
